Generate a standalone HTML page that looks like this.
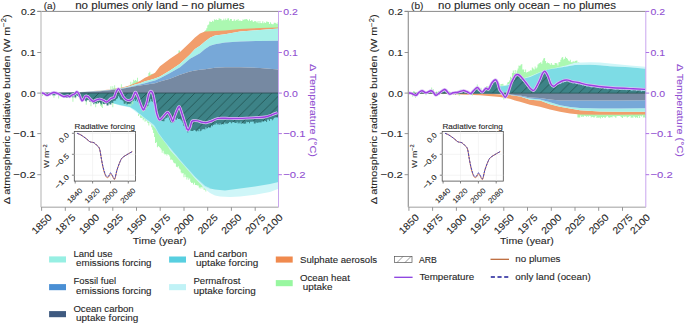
<!DOCTYPE html>
<html><head><meta charset="utf-8"><style>
html,body{margin:0;padding:0;background:#fff;width:685px;height:324px;overflow:hidden}
svg{display:block}
text{font-family:"Liberation Sans",sans-serif}
</style></head><body>
<svg width="685" height="324" viewBox="0 0 685 324">
<defs><pattern id="hatchA" patternUnits="userSpaceOnUse" width="9.6" height="9.6" patternTransform="translate(0,0)"><rect width="9.6" height="9.6" fill="#3d8387"/><path d="M-1,1 L1,-1 M0,9.6 L9.6,0 M8.6,10.6 L10.6,8.6" stroke="#20504f" stroke-width="0.8"/></pattern></defs>
<polygon points="203.5,32.1 204.4,32.1 204.4,31.1 205.4,31.1 205.4,30.0 206.3,30.0 206.3,28.2 207.3,28.2 207.3,25.3 208.2,25.3 208.2,24.5 209.2,24.5 209.2,21.4 210.1,21.4 210.1,21.7 211.1,21.7 211.0,22.1 212.0,22.1 212.0,20.8 212.9,20.8 212.9,21.4 213.9,21.4 213.9,19.2 214.8,19.2 214.8,20.0 215.8,20.0 215.8,19.3 216.7,19.3 216.7,20.0 217.7,20.0 217.7,19.9 218.6,19.9 218.6,18.3 219.6,18.3 219.6,18.8 220.5,18.8 220.5,18.9 221.5,18.9 221.5,20.6 222.4,20.6 222.4,20.2 223.4,20.2 223.4,18.7 224.3,18.7 224.3,20.3 225.3,20.3 225.3,18.6 226.2,18.6 226.2,19.9 227.2,19.9 227.2,18.6 228.1,18.6 228.1,18.3 229.1,18.3 229.1,20.6 230.0,20.6 230.0,18.9 231.0,18.9 231.0,18.9 231.9,18.9 231.9,20.9 232.9,20.9 232.9,20.7 233.8,20.7 233.8,19.2 234.8,19.2 234.8,20.9 235.7,20.9 235.7,19.8 236.7,19.8 236.7,20.2 237.6,20.2 237.6,19.0 238.6,19.0 238.6,20.9 239.5,20.9 239.5,20.3 240.5,20.3 240.5,21.1 241.4,21.1 241.4,21.0 242.4,21.0 242.4,19.5 243.3,19.5 243.3,19.7 244.3,19.7 244.3,19.3 245.2,19.3 245.2,19.3 246.2,19.3 246.2,19.1 247.1,19.1 247.1,19.8 248.1,19.8 248.1,20.7 249.0,20.7 249.0,19.2 250.0,19.2 250.0,21.0 250.9,21.0 250.9,20.3 251.9,20.3 251.9,20.4 252.8,20.4 252.8,21.9 253.8,21.9 253.8,21.2 254.7,21.2 254.7,21.0 255.7,21.0 255.7,21.6 256.6,21.6 256.6,22.4 257.6,22.4 257.6,20.9 258.5,20.9 258.5,23.3 259.5,23.3 259.5,21.0 260.4,21.0 260.4,22.9 261.4,22.9 261.4,23.3 262.3,23.3 262.3,21.2 263.3,21.2 263.3,23.3 264.2,23.3 264.2,22.3 265.2,22.3 265.2,23.0 266.1,23.0 266.1,21.5 267.1,21.5 267.1,21.7 268.0,21.7 268.0,22.1 269.0,22.1 269.0,24.1 269.9,24.1 269.9,22.2 270.9,22.2 270.9,23.7 271.8,23.7 271.8,24.2 272.8,24.2 272.8,24.2 273.7,24.2 273.7,22.7 274.7,22.7 274.7,22.8 275.6,22.8 275.6,23.3 276.6,23.3 276.6,24.0 277.5,24.0 277.5,22.3 278.5,22.3 278.5,28.5 277.5,28.5 277.5,28.5 276.6,28.5 276.6,28.6 275.6,28.6 275.6,28.6 274.7,28.6 274.7,28.6 273.7,28.6 273.7,28.6 272.8,28.6 272.8,28.7 271.8,28.7 271.8,28.7 270.9,28.7 270.9,28.7 269.9,28.7 269.9,28.7 269.0,28.7 269.0,28.8 268.0,28.8 268.0,28.8 267.1,28.8 267.1,28.8 266.1,28.8 266.1,28.8 265.2,28.8 265.2,28.9 264.2,28.9 264.2,28.9 263.3,28.9 263.3,28.9 262.3,28.9 262.3,29.0 261.4,29.0 261.4,29.0 260.4,29.0 260.4,29.0 259.5,29.0 259.5,29.1 258.5,29.1 258.5,29.1 257.6,29.1 257.6,29.1 256.6,29.1 256.6,29.2 255.7,29.2 255.7,29.2 254.7,29.2 254.7,29.3 253.8,29.3 253.8,29.3 252.8,29.3 252.8,29.4 251.9,29.4 251.9,29.4 250.9,29.4 250.9,29.5 250.0,29.5 250.0,29.5 249.0,29.5 249.0,29.6 248.1,29.6 248.1,29.6 247.1,29.6 247.1,29.7 246.2,29.7 246.2,29.7 245.2,29.7 245.2,29.8 244.3,29.8 244.3,29.8 243.3,29.8 243.3,29.9 242.4,29.9 242.4,29.9 241.4,29.9 241.4,30.0 240.5,30.0 240.5,30.0 239.5,30.0 239.5,30.1 238.6,30.1 238.6,30.2 237.6,30.2 237.6,30.3 236.7,30.3 236.7,30.4 235.7,30.4 235.7,30.5 234.8,30.5 234.8,30.6 233.8,30.6 233.8,30.7 232.9,30.7 232.9,30.8 231.9,30.8 231.9,30.9 231.0,30.9 231.0,30.9 230.0,30.9 230.0,31.0 229.1,31.0 229.1,31.1 228.1,31.1 228.1,31.2 227.2,31.2 227.2,31.3 226.2,31.3 226.2,31.4 225.3,31.4 225.3,31.5 224.3,31.5 224.3,31.6 223.4,31.6 223.4,31.6 222.4,31.6 222.4,31.7 221.5,31.7 221.5,31.7 220.5,31.7 220.5,31.7 219.6,31.7 219.6,31.8 218.6,31.8 218.6,31.8 217.7,31.8 217.7,31.9 216.7,31.9 216.7,31.9 215.8,31.9 215.8,32.0 214.8,32.0 214.8,32.0 213.9,32.0 213.9,32.1 212.9,32.1 212.9,32.1 212.0,32.1 212.0,32.1 211.0,32.1 211.1,32.2 210.1,32.2 210.1,32.2 209.2,32.2 209.2,32.3 208.2,32.3 208.2,32.4 207.3,32.4 207.3,32.5 206.3,32.5 206.3,32.5 205.4,32.5 205.4,32.6 204.4,32.6 204.4,33.0 203.5,33.0" fill="#abf8b1" />
<path d="M110.45,86.23h0.9v3.64h-0.9zM112.35,86.28h0.9v3.30h-0.9zM113.30,88.24h0.9v1.20h-0.9zM114.25,85.20h0.9v4.09h-0.9zM115.20,88.54h0.9v0.61h-0.9zM116.14,88.42h0.9v0.59h-0.9zM120.89,84.18h0.9v4.00h-0.9z" fill="#abf8b1"/>
<path d="M130.38,81.77h0.9v3.62h-0.9zM131.33,84.24h0.9v0.78h-0.9zM132.28,82.60h0.9v2.06h-0.9zM133.23,79.84h0.9v4.46h-0.9zM134.18,80.63h0.9v3.31h-0.9zM135.13,79.88h0.9v3.64h-0.9zM136.08,80.65h0.9v2.42h-0.9zM137.03,77.63h0.9v4.98h-0.9z" fill="#abf8b1"/>
<path d="M148.42,73.07h0.9v3.43h-0.9zM149.37,71.83h0.9v4.25h-0.9zM150.32,74.42h0.9v1.15h-0.9zM151.27,73.91h0.9v1.13h-0.9zM152.22,73.85h0.9v0.65h-0.9z" fill="#abf8b1"/>
<path d="M178.5,53.42h1.5v-3h-1.5z" fill="#abf8b1"/>
<polygon points="41.0,93.0 60.0,92.8 80.0,92.0 100.0,90.5 110.0,89.5 120.0,88.0 125.0,86.8 130.0,85.2 135.0,83.3 140.0,80.9 145.0,77.7 150.0,75.5 155.0,72.7 160.0,66.3 170.0,58.7 180.0,51.9 190.0,42.5 195.0,37.5 200.0,33.4 205.0,31.6 210.0,31.2 215.0,31.0 225.0,30.5 240.0,29.0 260.0,28.0 278.5,27.5 278.5,28.5 260.0,30.0 240.0,31.6 225.0,34.2 215.0,35.5 210.0,37.7 205.0,41.4 200.0,45.7 195.0,49.0 190.0,54.4 180.0,63.8 170.0,70.6 160.0,76.5 155.0,78.4 150.0,79.9 145.0,81.2 140.0,83.2 135.0,84.6 130.0,86.2 125.0,87.4 120.0,88.4 110.0,89.8 100.0,90.8 80.0,92.1 60.0,92.8 41.0,93.0" fill="#f19e6c" />
<polygon points="41.0,93.0 60.0,92.8 80.0,92.1 100.0,90.8 110.0,89.8 120.0,88.4 125.0,87.4 130.0,86.2 135.0,84.6 140.0,83.2 145.0,81.2 150.0,79.9 155.0,78.4 160.0,76.5 170.0,70.6 180.0,63.8 190.0,54.4 195.0,49.0 200.0,45.7 205.0,41.4 210.0,37.7 215.0,35.5 225.0,34.2 240.0,31.6 260.0,30.0 278.5,28.5 278.5,40.7 260.0,41.0 240.0,41.4 225.0,42.4 215.0,44.2 210.0,45.7 205.0,48.9 200.0,53.3 195.0,56.0 190.0,58.7 180.0,67.2 170.0,73.1 160.0,78.2 155.0,80.5 150.0,81.8 145.0,83.3 140.0,84.6 135.0,85.7 130.0,86.9 125.0,88.0 120.0,88.7 110.0,90.0 100.0,91.0 80.0,92.2 60.0,92.8 41.0,93.0" fill="#a8f1e8" />
<polygon points="41.0,93.0 60.0,92.8 80.0,92.2 100.0,91.0 110.0,90.0 120.0,88.7 125.0,88.0 130.0,86.9 135.0,85.7 140.0,84.6 145.0,83.3 150.0,81.8 155.0,80.5 160.0,78.2 170.0,73.1 180.0,67.2 190.0,58.7 195.0,56.0 200.0,53.3 205.0,48.9 210.0,45.7 215.0,44.2 225.0,42.4 240.0,41.4 260.0,41.0 278.5,40.7 278.5,69.5 260.0,68.0 240.0,67.3 225.0,67.3 215.0,67.7 210.0,68.4 205.0,69.3 200.0,69.8 195.0,70.6 190.0,71.4 180.0,74.8 170.0,78.7 160.0,81.6 155.0,83.3 150.0,84.0 145.0,84.8 140.0,85.5 135.0,86.3 130.0,87.3 125.0,88.3 120.0,89.0 110.0,90.2 100.0,91.2 80.0,92.3 60.0,92.8 41.0,93.0" fill="#77a8d8" />
<polygon points="41.0,93.0 60.0,92.8 80.0,92.3 100.0,91.2 110.0,90.2 120.0,89.0 125.0,88.3 130.0,87.3 135.0,86.3 140.0,85.5 145.0,84.8 150.0,84.0 155.0,83.3 160.0,81.6 170.0,78.7 180.0,74.8 190.0,71.4 195.0,70.6 200.0,69.8 205.0,69.3 210.0,68.4 215.0,67.7 225.0,67.3 240.0,67.3 260.0,68.0 278.5,69.5 278.5,93.0 260.0,93.0 240.0,93.0 225.0,93.0 215.0,93.0 210.0,93.0 205.0,93.0 200.0,93.0 195.0,93.0 190.0,93.0 180.0,93.0 170.0,93.0 160.0,93.0 155.0,93.0 150.0,93.0 145.0,93.0 140.0,93.0 135.0,93.0 130.0,93.0 125.0,93.0 120.0,93.0 110.0,93.0 100.0,93.0 80.0,93.0 60.0,93.0 41.0,93.0" fill="#7689a2" />
<polygon points="136.1,110.3 137.0,110.3 137.0,111.1 138.0,111.1 138.0,111.9 138.9,111.9 138.9,112.7 139.9,112.7 139.9,113.5 140.8,113.5 140.8,114.3 141.8,114.3 141.8,115.1 142.7,115.1 142.7,115.9 143.7,115.9 143.6,116.7 144.6,116.7 144.6,117.6 145.5,117.6 145.5,118.2 146.5,118.2 146.5,118.9 147.4,118.9 147.4,119.6 148.4,119.6 148.4,120.3 149.3,120.3 149.3,121.0 150.3,121.0 150.3,121.7 151.2,121.7 151.2,122.5 152.2,122.5 152.2,123.3 153.1,123.3 153.1,124.1 154.1,124.1 154.1,125.3 155.0,125.3 155.0,127.0 156.0,127.0 156.0,128.8 156.9,128.8 156.9,130.6 157.9,130.6 157.9,132.3 158.8,132.3 158.8,133.6 159.8,133.6 159.8,134.9 160.7,134.9 160.7,136.2 161.7,136.2 161.7,137.4 162.6,137.4 162.6,138.7 163.6,138.7 163.6,140.0 164.5,140.0 164.5,141.2 165.5,141.2 165.5,142.3 166.4,142.3 166.4,143.5 167.4,143.5 167.4,144.6 168.3,144.6 168.3,145.8 169.3,145.8 169.3,146.9 170.2,146.9 170.2,148.1 171.2,148.1 171.2,149.2 172.1,149.2 172.1,150.3 173.1,150.3 173.1,151.5 174.0,151.5 174.0,152.6 175.0,152.6 175.0,153.7 175.9,153.7 175.9,154.8 176.9,154.8 176.9,156.0 177.8,156.0 177.8,157.1 178.8,157.1 178.8,158.3 179.7,158.3 179.7,159.5 180.7,159.5 180.7,160.6 181.6,160.6 181.6,161.6 182.6,161.6 182.6,162.7 183.5,162.7 183.5,163.8 184.5,163.8 184.5,164.8 185.4,164.8 185.4,165.9 186.4,165.9 186.4,167.0 187.3,167.0 187.3,168.0 188.3,168.0 188.3,169.1 189.2,169.1 189.2,170.2 190.2,170.2 190.2,171.2 191.1,171.2 191.1,172.2 192.1,172.2 192.1,173.3 193.0,173.3 193.0,174.3 194.0,174.3 194.0,175.4 194.9,175.4 194.9,176.4 195.9,176.4 195.9,177.3 196.8,177.3 196.8,178.1 197.8,178.1 197.8,179.0 198.7,179.0 198.7,179.9 199.7,179.9 199.7,180.8 200.6,180.8 200.6,181.7 201.6,181.7 201.6,182.6 202.5,182.6 202.5,183.4 203.5,183.4 203.5,184.3 204.4,184.3 204.4,185.2 205.4,185.2 205.4,185.7 206.3,185.7 206.3,191.6 205.4,191.6 205.4,189.8 204.4,189.8 204.4,189.7 203.5,189.7 203.5,186.6 202.5,186.6 202.5,188.6 201.6,188.6 201.6,187.1 200.6,187.1 200.6,188.5 199.7,188.5 199.7,187.6 198.7,187.6 198.7,185.4 197.8,185.4 197.8,185.5 196.8,185.5 196.8,185.1 195.9,185.1 195.9,185.0 194.9,185.0 194.9,182.7 194.0,182.7 194.0,184.6 193.0,184.6 193.0,182.7 192.1,182.7 192.1,182.9 191.1,182.9 191.1,181.8 190.2,181.8 190.2,178.4 189.2,178.4 189.2,179.7 188.3,179.7 188.3,177.5 187.3,177.5 187.3,179.5 186.4,179.5 186.4,176.9 185.4,176.9 185.4,174.5 184.5,174.5 184.5,177.2 183.5,177.2 183.5,173.1 182.6,173.1 182.6,173.5 181.6,173.5 181.6,172.6 180.7,172.6 180.7,169.4 179.7,169.4 179.7,168.6 178.8,168.6 178.8,166.2 177.8,166.2 177.8,167.2 176.9,167.2 176.9,166.7 175.9,166.7 175.9,163.6 175.0,163.6 175.0,163.2 174.0,163.2 174.0,162.6 173.1,162.6 173.1,160.2 172.1,160.2 172.1,159.6 171.2,159.6 171.2,159.7 170.2,159.7 170.2,156.6 169.3,156.6 169.3,154.9 168.3,154.9 168.3,154.0 167.4,154.0 167.4,155.4 166.4,155.4 166.4,153.9 165.5,153.9 165.5,154.4 164.5,154.4 164.5,153.5 163.6,153.5 163.6,150.8 162.6,150.8 162.6,152.7 161.7,152.7 161.7,149.6 160.7,149.6 160.7,147.9 159.8,147.9 159.8,146.9 158.8,146.9 158.8,146.1 157.9,146.1 157.9,147.2 156.9,147.2 156.9,142.2 156.0,142.2 156.0,143.1 155.0,143.1 155.0,136.9 154.1,136.9 154.1,133.0 153.1,133.0 153.1,129.8 152.2,129.8 152.2,127.2 151.2,127.2 151.2,124.2 150.3,124.2 150.3,122.8 149.3,122.8 149.3,125.4 148.4,125.4 148.4,123.1 147.4,123.1 147.4,121.2 146.5,121.2 146.5,120.6 145.5,120.6 145.5,121.7 144.6,121.7 144.6,119.1 143.6,119.1 143.7,120.3 142.7,120.3 142.7,117.4 141.8,117.4 141.8,117.9 140.8,117.9 140.8,117.8 139.9,117.8 139.9,114.6 138.9,114.6 138.9,115.9 138.0,115.9 138.0,112.4 137.0,112.4 137.0,111.9 136.1,111.9" fill="#abf8b1" />
<polygon points="41.0,93.0 60.0,93.0 80.0,93.0 100.0,93.0 120.0,93.0 130.0,93.0 140.0,93.0 150.0,93.0 160.0,93.0 170.0,93.0 180.0,93.0 190.0,93.0 195.0,93.0 200.0,93.0 205.0,93.0 210.0,93.0 215.0,93.0 220.0,93.0 230.0,93.0 240.0,93.0 255.0,93.0 270.0,93.0 278.5,93.0 278.5,188.8 270.0,192.0 255.0,194.8 240.0,196.5 230.0,197.0 220.0,196.6 215.0,195.5 210.0,193.0 205.0,189.0 200.0,183.5 195.0,178.5 190.0,172.5 180.0,161.0 170.0,150.0 160.0,133.0 150.0,123.0 140.0,115.0 130.0,107.5 120.0,105.5 100.0,99.5 80.0,96.5 60.0,94.5 41.0,93.5" fill="#cff6f8" />
<polygon points="41.0,93.0 60.0,93.0 80.0,93.0 100.0,93.0 110.0,93.0 120.0,93.0 130.0,93.0 135.0,93.0 140.0,93.0 145.0,93.0 150.0,93.0 154.2,93.0 158.3,93.0 163.9,93.0 170.8,93.0 177.8,93.0 180.0,93.0 185.0,93.0 190.0,93.0 195.0,93.0 200.0,93.0 205.0,93.0 210.0,93.0 215.0,93.0 225.0,93.0 240.0,93.0 255.0,93.0 270.0,93.0 278.5,93.0 278.5,182.0 270.0,183.9 255.0,186.5 240.0,188.5 225.0,190.4 215.0,189.6 210.0,188.5 205.0,186.3 200.0,181.7 195.0,177.0 190.0,171.5 185.0,165.9 180.0,160.3 177.8,157.5 170.8,149.2 163.9,140.8 158.3,133.2 154.2,125.6 150.0,122.1 145.0,118.5 140.0,114.2 135.0,110.0 130.0,107.0 120.0,105.0 110.0,102.5 100.0,99.0 80.0,96.0 60.0,94.0 41.0,93.5" fill="#7ddce5" />
<polyline points="140.0,114.2 145.0,118.5 150.0,122.1 154.2,125.6 158.3,133.2 163.9,140.8 170.8,149.2 177.8,157.5 180.0,160.3 185.0,165.9 190.0,171.5 195.0,177.0 200.0,181.7 205.0,186.3 210.0,188.5" fill="none" stroke="#b8eef2" stroke-width="0.8"/>
<path d="M42.10,92.76h0.9v3.27h-0.9zM47.80,93.73h0.9v1.41h-0.9zM53.49,94.00h0.9v3.81h-0.9zM58.24,94.00h0.9v4.55h-0.9zM71.53,96.00h0.9v0.82h-0.9zM72.48,95.85h0.9v5.79h-0.9zM75.32,95.37h0.9v3.04h-0.9zM85.77,99.58h0.9v5.16h-0.9zM90.51,101.29h0.9v4.99h-0.9zM95.26,102.43h0.9v4.80h-0.9zM97.16,102.24h0.9v1.76h-0.9zM100.01,102.11h0.9v3.69h-0.9zM100.96,102.35h0.9v4.31h-0.9zM101.91,102.59h0.9v5.29h-0.9zM105.70,103.48h0.9v0.46h-0.9zM107.60,103.24h0.9v1.18h-0.9zM112.35,101.60h0.9v5.75h-0.9zM124.69,102.53h0.9v1.81h-0.9zM128.49,103.29h0.9v2.49h-0.9zM130.38,102.56h0.9v3.69h-0.9zM132.28,100.43h0.9v3.76h-0.9zM140.83,106.55h0.9v2.74h-0.9zM142.73,109.82h0.9v2.18h-0.9zM143.67,108.88h0.9v2.21h-0.9zM145.57,106.98h0.9v2.26h-0.9zM147.47,104.16h0.9v3.42h-0.9zM149.37,100.36h0.9v1.34h-0.9z" fill="#abf8b1"/>
<polygon points="41.1,93.0 42.1,93.0 42.1,93.0 43.0,93.0 43.0,93.0 44.0,93.0 44.0,93.0 44.9,93.0 44.9,93.0 45.9,93.0 45.9,93.0 46.8,93.0 46.8,93.0 47.8,93.0 47.8,93.0 48.7,93.0 48.7,93.0 49.7,93.0 49.7,93.0 50.6,93.0 50.6,93.0 51.6,93.0 51.6,93.0 52.5,93.0 52.5,93.0 53.5,93.0 53.5,93.0 54.4,93.0 54.4,93.0 55.4,93.0 55.4,93.0 56.3,93.0 56.3,93.0 57.3,93.0 57.3,93.0 58.2,93.0 58.2,93.0 59.2,93.0 59.2,93.0 60.1,93.0 60.1,93.0 61.1,93.0 61.1,93.0 62.0,93.0 62.0,93.0 63.0,93.0 63.0,93.0 63.9,93.0 63.9,93.0 64.9,93.0 64.9,93.0 65.8,93.0 65.8,93.0 66.8,93.0 66.8,93.0 67.7,93.0 67.7,93.0 68.7,93.0 68.7,93.0 69.6,93.0 69.6,93.0 70.6,93.0 70.6,93.0 71.5,93.0 71.5,93.0 72.5,93.0 72.5,93.0 73.4,93.0 73.4,93.0 74.4,93.0 74.4,93.0 75.3,93.0 75.3,93.0 76.2,93.0 76.2,93.0 77.2,93.0 77.2,93.0 78.1,93.0 78.1,93.0 79.1,93.0 79.1,93.0 80.0,93.0 80.0,93.0 81.0,93.0 81.0,93.0 81.9,93.0 81.9,93.0 82.9,93.0 82.9,93.0 83.8,93.0 83.8,93.0 84.8,93.0 84.8,93.0 85.7,93.0 85.7,93.0 86.7,93.0 86.7,93.0 87.6,93.0 87.6,93.0 88.6,93.0 88.6,93.0 89.5,93.0 89.5,93.0 90.5,93.0 90.5,93.0 91.4,93.0 91.4,93.0 92.4,93.0 92.4,93.0 93.3,93.0 93.3,93.0 94.3,93.0 94.3,93.0 95.2,93.0 95.2,93.0 96.2,93.0 96.2,93.0 97.1,93.0 97.1,93.0 98.1,93.0 98.1,93.0 99.0,93.0 99.0,93.0 100.0,93.0 100.0,93.0 100.9,93.0 100.9,93.0 101.9,93.0 101.9,93.0 102.8,93.0 102.8,93.0 103.8,93.0 103.8,93.0 104.7,93.0 104.7,93.0 105.7,93.0 105.7,93.0 106.6,93.0 106.6,93.0 107.6,93.0 107.6,93.0 108.5,93.0 108.5,93.0 109.5,93.0 109.5,93.0 110.4,93.0 110.4,93.0 111.4,93.0 111.4,93.0 112.3,93.0 112.3,93.0 113.3,93.0 113.3,93.0 114.2,93.0 114.2,93.0 115.2,93.0 115.2,93.0 116.1,93.0 116.1,93.0 117.1,93.0 117.1,93.0 118.0,93.0 118.0,93.0 119.0,93.0 119.0,93.0 119.9,93.0 119.9,93.0 120.9,93.0 120.9,93.0 121.8,93.0 121.8,93.0 122.8,93.0 122.8,93.0 123.7,93.0 123.7,93.0 124.7,93.0 124.7,93.0 125.6,93.0 125.6,93.0 126.6,93.0 126.6,93.0 127.5,93.0 127.5,93.0 128.5,93.0 128.5,93.0 129.4,93.0 129.4,93.0 130.4,93.0 130.4,93.0 131.3,93.0 131.3,93.0 132.3,93.0 132.3,93.0 133.2,93.0 133.2,93.0 134.2,93.0 134.2,93.0 135.1,93.0 135.1,93.0 136.1,93.0 136.1,93.0 137.0,93.0 137.0,93.0 138.0,93.0 138.0,93.0 138.9,93.0 138.9,93.0 139.9,93.0 139.9,93.0 140.8,93.0 140.8,93.0 141.8,93.0 141.8,93.0 142.7,93.0 142.7,93.0 143.7,93.0 143.6,93.0 144.6,93.0 144.6,93.0 145.5,93.0 145.5,93.0 146.5,93.0 146.5,93.0 147.4,93.0 147.4,93.0 148.4,93.0 148.4,93.0 149.3,93.0 149.3,93.0 150.3,93.0 150.3,93.0 151.2,93.0 151.2,93.0 152.2,93.0 152.2,93.0 153.1,93.0 153.1,93.0 154.1,93.0 154.1,93.0 155.0,93.0 155.0,93.0 156.0,93.0 156.0,93.0 156.9,93.0 156.9,93.0 157.9,93.0 157.9,93.0 158.8,93.0 158.8,93.0 159.8,93.0 159.8,93.0 160.7,93.0 160.7,93.0 161.7,93.0 161.7,93.0 162.6,93.0 162.6,93.0 163.6,93.0 163.6,93.0 164.5,93.0 164.5,93.0 165.5,93.0 165.5,93.0 166.4,93.0 166.4,93.0 167.4,93.0 167.4,93.0 168.3,93.0 168.3,93.0 169.3,93.0 169.3,93.0 170.2,93.0 170.2,93.0 171.2,93.0 171.2,93.0 172.1,93.0 172.1,93.0 173.1,93.0 173.1,93.0 174.0,93.0 174.0,93.0 175.0,93.0 175.0,93.0 175.9,93.0 175.9,93.0 176.9,93.0 176.9,93.0 177.8,93.0 177.8,93.0 178.8,93.0 178.8,93.0 179.7,93.0 179.7,93.0 180.7,93.0 180.7,93.0 181.6,93.0 181.6,93.0 182.6,93.0 182.6,93.0 183.5,93.0 183.5,93.0 184.5,93.0 184.5,93.0 185.4,93.0 185.4,93.0 186.4,93.0 186.4,93.0 187.3,93.0 187.3,93.0 188.3,93.0 188.3,93.0 189.2,93.0 189.2,93.0 190.2,93.0 190.2,93.0 191.1,93.0 191.1,93.0 192.1,93.0 192.1,93.0 193.0,93.0 193.0,93.0 194.0,93.0 194.0,93.0 194.9,93.0 194.9,93.0 195.9,93.0 195.9,93.0 196.8,93.0 196.8,93.0 197.8,93.0 197.8,93.0 198.7,93.0 198.7,93.0 199.7,93.0 199.7,93.0 200.6,93.0 200.6,93.0 201.6,93.0 201.6,93.0 202.5,93.0 202.5,93.0 203.5,93.0 203.5,93.0 204.4,93.0 204.4,93.0 205.4,93.0 205.4,93.0 206.3,93.0 206.3,93.0 207.3,93.0 207.3,93.0 208.2,93.0 208.2,93.0 209.2,93.0 209.2,93.0 210.1,93.0 210.1,93.0 211.1,93.0 211.0,93.0 212.0,93.0 212.0,93.0 212.9,93.0 212.9,93.0 213.9,93.0 213.9,93.0 214.8,93.0 214.8,93.0 215.8,93.0 215.8,93.0 216.7,93.0 216.7,93.0 217.7,93.0 217.7,93.0 218.6,93.0 218.6,93.0 219.6,93.0 219.6,93.0 220.5,93.0 220.5,93.0 221.5,93.0 221.5,93.0 222.4,93.0 222.4,93.0 223.4,93.0 223.4,93.0 224.3,93.0 224.3,93.0 225.3,93.0 225.3,93.0 226.2,93.0 226.2,93.0 227.2,93.0 227.2,93.0 228.1,93.0 228.1,93.0 229.1,93.0 229.1,93.0 230.0,93.0 230.0,93.0 231.0,93.0 231.0,93.0 231.9,93.0 231.9,93.0 232.9,93.0 232.9,93.0 233.8,93.0 233.8,93.0 234.8,93.0 234.8,93.0 235.7,93.0 235.7,93.0 236.7,93.0 236.7,93.0 237.6,93.0 237.6,93.0 238.6,93.0 238.6,93.0 239.5,93.0 239.5,93.0 240.5,93.0 240.5,93.0 241.4,93.0 241.4,93.0 242.4,93.0 242.4,93.0 243.3,93.0 243.3,93.0 244.3,93.0 244.3,93.0 245.2,93.0 245.2,93.0 246.2,93.0 246.2,93.0 247.1,93.0 247.1,93.0 248.1,93.0 248.1,93.0 249.0,93.0 249.0,93.0 250.0,93.0 250.0,93.0 250.9,93.0 250.9,93.0 251.9,93.0 251.9,93.0 252.8,93.0 252.8,93.0 253.8,93.0 253.8,93.0 254.7,93.0 254.7,93.0 255.7,93.0 255.7,93.0 256.6,93.0 256.6,93.0 257.6,93.0 257.6,93.0 258.5,93.0 258.5,93.0 259.5,93.0 259.5,93.0 260.4,93.0 260.4,93.0 261.4,93.0 261.4,93.0 262.3,93.0 262.3,93.0 263.3,93.0 263.3,93.0 264.2,93.0 264.2,93.0 265.2,93.0 265.2,93.0 266.1,93.0 266.1,93.0 267.1,93.0 267.1,93.0 268.0,93.0 268.0,93.0 269.0,93.0 269.0,93.0 269.9,93.0 269.9,93.0 270.9,93.0 270.9,93.0 271.8,93.0 271.8,93.0 272.8,93.0 272.8,93.0 273.7,93.0 273.7,93.0 274.7,93.0 274.7,93.0 275.6,93.0 275.6,93.0 276.6,93.0 276.6,93.0 277.5,93.0 277.5,93.0 278.5,93.0 278.5,117.9 277.5,117.9 277.5,117.1 276.6,117.1 276.6,117.4 275.6,117.4 275.6,117.2 274.7,117.2 274.7,118.0 273.7,118.0 273.7,119.3 272.8,119.3 272.8,120.2 271.8,120.2 271.8,119.1 270.9,119.1 270.9,118.9 269.9,118.9 269.9,120.9 269.0,120.9 269.0,119.5 268.0,119.5 268.0,119.6 267.1,119.6 267.1,122.0 266.1,122.0 266.1,121.1 265.2,121.1 265.2,120.7 264.2,120.7 264.2,121.7 263.3,121.7 263.3,121.3 262.3,121.3 262.3,121.5 261.4,121.5 261.4,122.6 260.4,122.6 260.4,122.2 259.5,122.2 259.5,122.6 258.5,122.6 258.5,122.4 257.6,122.4 257.6,123.1 256.6,123.1 256.6,122.2 255.7,122.2 255.7,123.6 254.7,123.6 254.7,123.6 253.8,123.6 253.8,121.6 252.8,121.6 252.8,121.6 251.9,121.6 251.9,121.8 250.9,121.8 250.9,121.8 250.0,121.8 250.0,123.2 249.0,123.2 249.0,121.9 248.1,121.9 248.1,122.2 247.1,122.2 247.1,121.7 246.2,121.7 246.2,123.4 245.2,123.4 245.2,123.8 244.3,123.8 244.3,123.8 243.3,123.8 243.3,122.9 242.4,122.9 242.4,123.8 241.4,123.8 241.4,121.6 240.5,121.6 240.5,123.5 239.5,123.5 239.5,122.4 238.6,122.4 238.6,123.5 237.6,123.5 237.6,121.7 236.7,121.7 236.7,123.0 235.7,123.0 235.7,122.9 234.8,122.9 234.8,122.6 233.8,122.6 233.8,122.0 232.9,122.0 232.9,122.3 231.9,122.3 231.9,123.3 231.0,123.3 231.0,122.3 230.0,122.3 230.0,122.1 229.1,122.1 229.1,123.0 228.1,123.0 228.1,123.7 227.2,123.7 227.2,123.6 226.2,123.6 226.2,123.7 225.3,123.7 225.3,122.4 224.3,122.4 224.3,124.5 223.4,124.5 223.4,124.0 222.4,124.0 222.4,124.3 221.5,124.3 221.5,124.6 220.5,124.6 220.5,123.2 219.6,123.2 219.6,124.9 218.6,124.9 218.6,123.7 217.7,123.7 217.7,124.4 216.7,124.4 216.7,123.1 215.8,123.1 215.8,124.6 214.8,124.6 214.8,124.6 213.9,124.6 213.9,125.1 212.9,125.1 212.9,126.2 212.0,126.2 212.0,125.4 211.0,125.4 211.1,127.4 210.1,127.4 210.1,127.8 209.2,127.8 209.2,127.1 208.2,127.1 208.2,127.9 207.3,127.9 207.3,128.4 206.3,128.4 206.3,127.2 205.4,127.2 205.4,129.5 204.4,129.5 204.4,128.9 203.5,128.9 203.5,129.2 202.5,129.2 202.5,129.6 201.6,129.6 201.6,130.7 200.6,130.7 200.6,131.2 199.7,131.2 199.7,129.1 198.7,129.1 198.7,131.3 197.8,131.3 197.8,130.5 196.8,130.5 196.8,131.5 195.9,131.5 195.9,130.5 194.9,130.5 194.9,129.9 194.0,129.9 194.0,130.5 193.0,130.5 193.0,131.1 192.1,131.1 192.1,131.0 191.1,131.0 191.1,130.6 190.2,130.6 190.2,130.4 189.2,130.4 189.2,131.1 188.3,131.1 188.3,132.4 187.3,132.4 187.3,129.3 186.4,129.3 186.4,129.2 185.4,129.2 185.4,126.6 184.5,126.6 184.5,126.1 183.5,126.1 183.5,123.0 182.6,123.0 182.6,121.2 181.6,121.2 181.6,120.3 180.7,120.3 180.7,119.3 179.7,119.3 179.7,118.8 178.8,118.8 178.8,118.9 177.8,118.9 177.8,117.9 176.9,117.9 176.9,119.8 175.9,119.8 175.9,119.4 175.0,119.4 175.0,121.5 174.0,121.5 174.0,122.5 173.1,122.5 173.1,123.1 172.1,123.1 172.1,122.4 171.2,122.4 171.2,122.2 170.2,122.2 170.2,120.2 169.3,120.2 169.3,117.4 168.3,117.4 168.3,116.2 167.4,116.2 167.4,118.0 166.4,118.0 166.4,117.8 165.5,117.8 165.5,119.0 164.5,119.0 164.5,121.3 163.6,121.3 163.6,121.2 162.6,121.2 162.6,120.9 161.7,120.9 161.7,120.7 160.7,120.7 160.7,120.6 159.8,120.6 159.8,120.8 158.8,120.8 158.8,119.9 157.9,119.9 157.9,117.2 156.9,117.2 156.9,113.6 156.0,113.6 156.0,108.1 155.0,108.1 155.0,107.3 154.1,107.3 154.1,103.2 153.1,103.2 153.1,101.8 152.2,101.8 152.2,101.3 151.2,101.3 151.2,98.7 150.3,98.7 150.3,101.8 149.3,101.8 149.3,102.9 148.4,102.9 148.4,106.0 147.4,106.0 147.4,106.7 146.5,106.7 146.5,107.7 145.5,107.7 145.5,110.0 144.6,110.0 144.6,109.2 143.6,109.2 143.7,110.6 142.7,110.6 142.7,110.0 141.8,110.0 141.8,106.9 140.8,106.9 140.8,106.2 139.9,106.2 139.9,103.7 138.9,103.7 138.9,102.6 138.0,102.6 138.0,101.5 137.0,101.5 137.0,99.5 136.1,99.5 136.1,101.1 135.1,101.1 135.1,99.2 134.2,99.2 134.2,100.7 133.2,100.7 133.2,100.4 132.3,100.4 132.3,102.1 131.3,102.1 131.3,103.4 130.4,103.4 130.4,103.8 129.4,103.8 129.4,104.1 128.5,104.1 128.5,103.7 127.5,103.7 127.5,104.6 126.6,104.6 126.6,102.6 125.6,102.6 125.6,103.7 124.7,103.7 124.7,103.8 123.7,103.8 123.7,101.3 122.8,101.3 122.8,100.3 121.8,100.3 121.8,99.6 120.9,99.6 120.9,99.5 119.9,99.5 119.9,97.6 119.0,97.6 119.0,96.3 118.0,96.3 118.0,98.2 117.1,98.2 117.1,99.0 116.1,99.0 116.1,100.4 115.2,100.4 115.2,100.8 114.2,100.8 114.2,101.0 113.3,101.0 113.3,102.9 112.3,102.9 112.3,102.4 111.4,102.4 111.4,104.6 110.4,104.6 110.4,104.5 109.5,104.5 109.5,103.2 108.5,103.2 108.5,105.4 107.6,105.4 107.6,105.6 106.6,105.6 106.6,103.9 105.7,103.9 105.7,103.5 104.7,103.5 104.7,104.3 103.8,104.3 103.8,104.0 102.8,104.0 102.8,102.5 101.9,102.5 101.9,104.5 100.9,104.5 100.9,103.4 100.0,103.4 100.0,102.3 99.0,102.3 99.0,103.3 98.1,103.3 98.1,102.3 97.1,102.3 97.1,103.7 96.2,103.7 96.2,103.2 95.2,103.2 95.2,103.2 94.3,103.2 94.3,104.2 93.3,104.2 93.3,102.9 92.4,102.9 92.4,101.6 91.4,101.6 91.4,101.1 90.5,101.1 90.5,102.1 89.5,102.1 89.5,100.6 88.6,100.6 88.6,100.1 87.6,100.1 87.6,100.2 86.7,100.2 86.7,101.5 85.7,101.5 85.7,100.8 84.8,100.8 84.8,99.8 83.8,99.8 83.8,101.1 82.9,101.1 82.9,100.0 81.9,100.0 81.9,101.3 81.0,101.3 81.0,99.0 80.0,99.0 80.0,96.8 79.1,96.8 79.1,96.8 78.1,96.8 78.1,95.8 77.2,95.8 77.2,95.1 76.2,95.1 76.2,97.3 75.3,97.3 75.3,97.5 74.4,97.5 74.4,96.0 73.4,96.0 73.4,97.6 72.5,97.6 72.5,96.5 71.5,96.5 71.5,96.4 70.6,96.4 70.6,96.6 69.6,96.6 69.6,96.2 68.7,96.2 68.7,97.1 67.7,97.1 67.7,97.9 66.8,97.9 66.8,97.9 65.8,97.9 65.8,96.7 64.9,96.7 64.9,95.9 63.9,95.9 63.9,97.0 63.0,97.0 63.0,95.8 62.0,95.8 62.0,96.3 61.1,96.3 61.1,95.5 60.1,95.5 60.1,96.0 59.2,96.0 59.2,95.0 58.2,95.0 58.2,94.1 57.3,94.1 57.3,94.4 56.3,94.4 56.3,94.2 55.4,94.2 55.4,95.5 54.4,95.5 54.4,94.9 53.5,94.9 53.5,95.5 52.5,95.5 52.5,94.7 51.6,94.7 51.6,93.9 50.6,93.9 50.6,95.3 49.7,95.3 49.7,95.0 48.7,95.0 48.7,93.7 47.8,93.7 47.8,95.5 46.8,95.5 46.8,94.4 45.9,94.4 45.9,93.0 44.9,93.0 44.9,95.0 44.0,95.0 44.0,93.0 43.0,93.0 43.0,93.5 42.1,93.5 42.1,93.5 41.1,93.5" fill="#3d8387" style="fill:url(#hatchA)"/>
<line x1="41.0" y1="93.0" x2="278.5" y2="93.0" stroke="#2a4c50" stroke-width="0.8"/>
<path d="M41.40,93.00 C41.78,93.07 42.78,93.02 43.70,93.40 C44.62,93.78 45.82,95.22 46.90,95.30 C47.98,95.38 49.03,94.37 50.20,93.90 C51.37,93.43 52.52,92.50 53.90,92.50 C55.28,92.50 56.88,93.23 58.50,93.90 C60.12,94.57 62.05,96.20 63.60,96.50 C65.15,96.80 66.80,95.67 67.80,95.70 C68.80,95.73 68.83,96.85 69.60,96.70 C70.37,96.55 71.55,95.27 72.40,94.80 C73.25,94.33 73.95,94.43 74.70,93.90 C75.45,93.37 76.20,91.60 76.90,91.60 C77.60,91.60 78.03,92.37 78.90,93.90 C79.77,95.43 81.02,100.42 82.10,100.80 C83.18,101.18 84.40,96.88 85.40,96.20 C86.40,95.52 87.25,96.17 88.10,96.70 C88.95,97.23 89.65,98.63 90.50,99.40 C91.35,100.17 92.20,101.22 93.20,101.30 C94.20,101.38 95.38,100.27 96.50,99.90 C97.62,99.53 98.72,99.02 99.90,99.10 C101.08,99.18 102.47,99.92 103.60,100.40 C104.73,100.88 105.47,102.32 106.70,102.00 C107.93,101.68 109.77,99.28 111.00,98.50 C112.23,97.72 113.27,98.33 114.10,97.30 C114.93,96.27 115.27,93.75 116.00,92.30 C116.73,90.85 117.68,88.60 118.50,88.60 C119.32,88.60 119.98,90.75 120.90,92.30 C121.82,93.85 122.87,96.55 124.00,97.90 C125.13,99.25 126.37,100.20 127.70,100.40 C129.03,100.60 130.77,100.45 132.00,99.10 C133.23,97.75 134.17,92.82 135.10,92.30 C136.03,91.78 136.77,94.25 137.60,96.00 C138.43,97.75 139.18,100.53 140.10,102.80 C141.02,105.07 142.28,108.87 143.10,109.60 C143.92,110.33 144.37,108.42 145.00,107.20 C145.63,105.98 146.28,104.45 146.90,102.30 C147.52,100.15 148.03,96.15 148.70,94.30 C149.37,92.45 150.18,91.20 150.90,91.20 C151.62,91.20 152.33,92.25 153.00,94.30 C153.67,96.35 154.28,100.32 154.90,103.50 C155.52,106.68 155.98,110.72 156.70,113.40 C157.42,116.08 158.27,118.88 159.20,119.60 C160.13,120.32 161.27,118.63 162.30,117.70 C163.33,116.77 164.48,114.92 165.40,114.00 C166.32,113.08 166.98,111.88 167.80,112.20 C168.62,112.52 169.47,114.37 170.30,115.90 C171.13,117.43 172.10,121.28 172.80,121.40 C173.50,121.52 173.82,118.43 174.50,116.60 C175.18,114.77 176.08,112.05 176.90,110.40 C177.72,108.75 178.57,106.18 179.40,106.70 C180.23,107.22 181.08,111.13 181.90,113.50 C182.72,115.87 183.38,118.22 184.30,120.90 C185.22,123.58 186.47,128.47 187.40,129.60 C188.33,130.73 189.17,129.05 189.90,127.70 C190.63,126.35 191.08,122.67 191.80,121.50 C192.52,120.33 193.18,120.80 194.20,120.70 C195.22,120.60 196.60,120.65 197.90,120.90 C199.20,121.15 200.65,121.88 202.00,122.20 C203.35,122.52 204.50,122.95 206.00,122.80 C207.50,122.65 208.95,122.03 211.00,121.30 C213.05,120.57 215.23,118.88 218.30,118.40 C221.37,117.92 225.35,118.40 229.40,118.40 C233.45,118.40 238.22,118.53 242.60,118.40 C246.98,118.27 251.98,117.83 255.70,117.60 C259.42,117.37 262.27,117.43 264.90,117.00 C267.53,116.57 269.42,115.72 271.50,115.00 C273.58,114.28 276.42,113.08 277.40,112.70" fill="none" stroke="#dcc4f6" stroke-width="2.9" stroke-linejoin="round"/>
<path d="M41.40,93.00 C41.78,93.07 42.78,93.02 43.70,93.40 C44.62,93.78 45.82,95.22 46.90,95.30 C47.98,95.38 49.03,94.37 50.20,93.90 C51.37,93.43 52.52,92.50 53.90,92.50 C55.28,92.50 56.88,93.23 58.50,93.90 C60.12,94.57 62.05,96.20 63.60,96.50 C65.15,96.80 66.80,95.67 67.80,95.70 C68.80,95.73 68.83,96.85 69.60,96.70 C70.37,96.55 71.55,95.27 72.40,94.80 C73.25,94.33 73.95,94.43 74.70,93.90 C75.45,93.37 76.20,91.60 76.90,91.60 C77.60,91.60 78.03,92.37 78.90,93.90 C79.77,95.43 81.02,100.42 82.10,100.80 C83.18,101.18 84.40,96.88 85.40,96.20 C86.40,95.52 87.25,96.17 88.10,96.70 C88.95,97.23 89.65,98.63 90.50,99.40 C91.35,100.17 92.20,101.22 93.20,101.30 C94.20,101.38 95.38,100.27 96.50,99.90 C97.62,99.53 98.72,99.02 99.90,99.10 C101.08,99.18 102.47,99.92 103.60,100.40 C104.73,100.88 105.47,102.32 106.70,102.00 C107.93,101.68 109.77,99.28 111.00,98.50 C112.23,97.72 113.27,98.33 114.10,97.30 C114.93,96.27 115.27,93.75 116.00,92.30 C116.73,90.85 117.68,88.60 118.50,88.60 C119.32,88.60 119.98,90.75 120.90,92.30 C121.82,93.85 122.87,96.55 124.00,97.90 C125.13,99.25 126.37,100.20 127.70,100.40 C129.03,100.60 130.77,100.45 132.00,99.10 C133.23,97.75 134.17,92.82 135.10,92.30 C136.03,91.78 136.77,94.25 137.60,96.00 C138.43,97.75 139.18,100.53 140.10,102.80 C141.02,105.07 142.28,108.87 143.10,109.60 C143.92,110.33 144.37,108.42 145.00,107.20 C145.63,105.98 146.28,104.45 146.90,102.30 C147.52,100.15 148.03,96.15 148.70,94.30 C149.37,92.45 150.18,91.20 150.90,91.20 C151.62,91.20 152.33,92.25 153.00,94.30 C153.67,96.35 154.28,100.32 154.90,103.50 C155.52,106.68 155.98,110.72 156.70,113.40 C157.42,116.08 158.27,118.88 159.20,119.60 C160.13,120.32 161.27,118.63 162.30,117.70 C163.33,116.77 164.48,114.92 165.40,114.00 C166.32,113.08 166.98,111.88 167.80,112.20 C168.62,112.52 169.47,114.37 170.30,115.90 C171.13,117.43 172.10,121.28 172.80,121.40 C173.50,121.52 173.82,118.43 174.50,116.60 C175.18,114.77 176.08,112.05 176.90,110.40 C177.72,108.75 178.57,106.18 179.40,106.70 C180.23,107.22 181.08,111.13 181.90,113.50 C182.72,115.87 183.38,118.22 184.30,120.90 C185.22,123.58 186.47,128.47 187.40,129.60 C188.33,130.73 189.17,129.05 189.90,127.70 C190.63,126.35 191.08,122.67 191.80,121.50 C192.52,120.33 193.18,120.80 194.20,120.70 C195.22,120.60 196.60,120.65 197.90,120.90 C199.20,121.15 200.65,121.88 202.00,122.20 C203.35,122.52 204.50,122.95 206.00,122.80 C207.50,122.65 208.95,122.03 211.00,121.30 C213.05,120.57 215.23,118.88 218.30,118.40 C221.37,117.92 225.35,118.40 229.40,118.40 C233.45,118.40 238.22,118.53 242.60,118.40 C246.98,118.27 251.98,117.83 255.70,117.60 C259.42,117.37 262.27,117.43 264.90,117.00 C267.53,116.57 269.42,115.72 271.50,115.00 C273.58,114.28 276.42,113.08 277.40,112.70" fill="none" stroke="#9b3fe0" stroke-width="1.45" stroke-linejoin="round"/>
<line x1="37.3" y1="11.4" x2="278.5" y2="11.4" stroke="#8a8a8a" stroke-width="1"/>
<line x1="41.0" y1="11.4" x2="41.0" y2="207.2" stroke="#cfcfcf" stroke-width="1.6"/>
<line x1="41.0" y1="207.2" x2="278.5" y2="207.2" stroke="#bfbfbf" stroke-width="1.5"/>
<line x1="278.5" y1="11.4" x2="278.5" y2="207.2" stroke="#c9a6ee" stroke-width="1"/>
<line x1="37.3" y1="11.4" x2="41.0" y2="11.4" stroke="#8a8a8a" stroke-width="0.9"/>
<text x="35.6" y="15.0" font-size="9.48" text-anchor="end" textLength="14.6" lengthAdjust="spacingAndGlyphs" fill="#262626" stroke="#262626" stroke-width="0.1" >0.2</text>
<line x1="278.5" y1="11.4" x2="281.9" y2="11.4" stroke="#a463e3" stroke-width="0.9"/>
<text x="283.2" y="15.0" font-size="9.48" textLength="14.6" lengthAdjust="spacingAndGlyphs" fill="#9150d2" stroke="#9150d2" stroke-width="0.1" >0.2</text>
<line x1="37.3" y1="52.5" x2="41.0" y2="52.5" stroke="#8a8a8a" stroke-width="0.9"/>
<text x="35.6" y="56.1" font-size="9.48" text-anchor="end" textLength="14.6" lengthAdjust="spacingAndGlyphs" fill="#262626" stroke="#262626" stroke-width="0.1" >0.1</text>
<line x1="278.5" y1="52.5" x2="281.9" y2="52.5" stroke="#a463e3" stroke-width="0.9"/>
<text x="283.2" y="56.1" font-size="9.48" textLength="14.6" lengthAdjust="spacingAndGlyphs" fill="#9150d2" stroke="#9150d2" stroke-width="0.1" >0.1</text>
<line x1="37.3" y1="93.1" x2="41.0" y2="93.1" stroke="#8a8a8a" stroke-width="0.9"/>
<text x="35.6" y="96.7" font-size="9.48" text-anchor="end" textLength="14.6" lengthAdjust="spacingAndGlyphs" fill="#262626" stroke="#262626" stroke-width="0.1" >0.0</text>
<line x1="278.5" y1="93.1" x2="281.9" y2="93.1" stroke="#a463e3" stroke-width="0.9"/>
<text x="283.2" y="96.7" font-size="9.48" textLength="14.6" lengthAdjust="spacingAndGlyphs" fill="#9150d2" stroke="#9150d2" stroke-width="0.1" >0.0</text>
<line x1="37.3" y1="133.6" x2="41.0" y2="133.6" stroke="#8a8a8a" stroke-width="0.9"/>
<text x="35.6" y="137.2" font-size="9.48" text-anchor="end" textLength="22.3" lengthAdjust="spacingAndGlyphs" fill="#262626" stroke="#262626" stroke-width="0.1" >−0.1</text>
<line x1="278.5" y1="133.6" x2="281.9" y2="133.6" stroke="#a463e3" stroke-width="0.9"/>
<text x="283.2" y="137.2" font-size="9.48" textLength="22.3" lengthAdjust="spacingAndGlyphs" fill="#9150d2" stroke="#9150d2" stroke-width="0.1" >−0.1</text>
<line x1="37.3" y1="174.7" x2="41.0" y2="174.7" stroke="#8a8a8a" stroke-width="0.9"/>
<text x="35.6" y="178.3" font-size="9.48" text-anchor="end" textLength="22.3" lengthAdjust="spacingAndGlyphs" fill="#262626" stroke="#262626" stroke-width="0.1" >−0.2</text>
<line x1="278.5" y1="174.7" x2="281.9" y2="174.7" stroke="#a463e3" stroke-width="0.9"/>
<text x="283.2" y="178.3" font-size="9.48" textLength="22.3" lengthAdjust="spacingAndGlyphs" fill="#9150d2" stroke="#9150d2" stroke-width="0.1" >−0.2</text>
<line x1="41.6" y1="207.2" x2="41.6" y2="210.8" stroke="#8a8a8a" stroke-width="0.9"/>
<text x="41.6" y="227.4" font-size="9.68" text-anchor="middle" textLength="23.9" lengthAdjust="spacingAndGlyphs" transform="rotate(-45 41.6 224.0)" fill="#262626" stroke="#262626" stroke-width="0.1" >1850</text>
<line x1="65.3" y1="207.2" x2="65.3" y2="210.8" stroke="#8a8a8a" stroke-width="0.9"/>
<text x="65.3" y="227.4" font-size="9.68" text-anchor="middle" textLength="23.9" lengthAdjust="spacingAndGlyphs" transform="rotate(-45 65.3 224.0)" fill="#262626" stroke="#262626" stroke-width="0.1" >1875</text>
<line x1="89.1" y1="207.2" x2="89.1" y2="210.8" stroke="#8a8a8a" stroke-width="0.9"/>
<text x="89.1" y="227.4" font-size="9.68" text-anchor="middle" textLength="23.9" lengthAdjust="spacingAndGlyphs" transform="rotate(-45 89.1 224.0)" fill="#262626" stroke="#262626" stroke-width="0.1" >1900</text>
<line x1="112.8" y1="207.2" x2="112.8" y2="210.8" stroke="#8a8a8a" stroke-width="0.9"/>
<text x="112.8" y="227.4" font-size="9.68" text-anchor="middle" textLength="23.9" lengthAdjust="spacingAndGlyphs" transform="rotate(-45 112.8 224.0)" fill="#262626" stroke="#262626" stroke-width="0.1" >1925</text>
<line x1="136.5" y1="207.2" x2="136.5" y2="210.8" stroke="#8a8a8a" stroke-width="0.9"/>
<text x="136.5" y="227.4" font-size="9.68" text-anchor="middle" textLength="23.9" lengthAdjust="spacingAndGlyphs" transform="rotate(-45 136.5 224.0)" fill="#262626" stroke="#262626" stroke-width="0.1" >1950</text>
<line x1="160.2" y1="207.2" x2="160.2" y2="210.8" stroke="#8a8a8a" stroke-width="0.9"/>
<text x="160.2" y="227.4" font-size="9.68" text-anchor="middle" textLength="23.9" lengthAdjust="spacingAndGlyphs" transform="rotate(-45 160.2 224.0)" fill="#262626" stroke="#262626" stroke-width="0.1" >1975</text>
<line x1="184.0" y1="207.2" x2="184.0" y2="210.8" stroke="#8a8a8a" stroke-width="0.9"/>
<text x="184.0" y="227.4" font-size="9.68" text-anchor="middle" textLength="23.9" lengthAdjust="spacingAndGlyphs" transform="rotate(-45 184.0 224.0)" fill="#262626" stroke="#262626" stroke-width="0.1" >2000</text>
<line x1="207.7" y1="207.2" x2="207.7" y2="210.8" stroke="#8a8a8a" stroke-width="0.9"/>
<text x="207.7" y="227.4" font-size="9.68" text-anchor="middle" textLength="23.9" lengthAdjust="spacingAndGlyphs" transform="rotate(-45 207.7 224.0)" fill="#262626" stroke="#262626" stroke-width="0.1" >2025</text>
<line x1="231.4" y1="207.2" x2="231.4" y2="210.8" stroke="#8a8a8a" stroke-width="0.9"/>
<text x="231.4" y="227.4" font-size="9.68" text-anchor="middle" textLength="23.9" lengthAdjust="spacingAndGlyphs" transform="rotate(-45 231.4 224.0)" fill="#262626" stroke="#262626" stroke-width="0.1" >2050</text>
<line x1="255.2" y1="207.2" x2="255.2" y2="210.8" stroke="#8a8a8a" stroke-width="0.9"/>
<text x="255.2" y="227.4" font-size="9.68" text-anchor="middle" textLength="23.9" lengthAdjust="spacingAndGlyphs" transform="rotate(-45 255.2 224.0)" fill="#262626" stroke="#262626" stroke-width="0.1" >2075</text>
<text x="272.7" y="227.4" font-size="9.68" text-anchor="middle" textLength="23.9" lengthAdjust="spacingAndGlyphs" transform="rotate(-45 272.7 224.0)" fill="#262626" stroke="#262626" stroke-width="0.1" >2100</text>
<text x="43.8" y="8.9" font-size="8.96" textLength="12.1" lengthAdjust="spacingAndGlyphs" fill="#262626" stroke="#262626" stroke-width="0.1" >(a)</text>
<text x="159.6" y="244.1" font-size="9.58" text-anchor="middle" textLength="53.7" lengthAdjust="spacingAndGlyphs" fill="#262626" stroke="#262626" stroke-width="0.1" >Time (year)</text>
<text x="9.9" y="204.3" font-size="9.75" textLength="189.8" lengthAdjust="spacingAndGlyphs" transform="rotate(-90 9.9 204.3)" fill="#262626" stroke="#262626" stroke-width="0.1" >Δ atmospheric radiative burden (W m<tspan font-size="6.8" dy="-3.6">−2</tspan><tspan dy="3.6">)</tspan></text>
<text x="309.9" y="64.0" font-size="9.94" textLength="93.0" lengthAdjust="spacingAndGlyphs" transform="rotate(90 309.9 64.0)" fill="#9150d2" stroke="#9150d2" stroke-width="0.1" >Δ Temperature (°C)</text>
<rect x="74.3" y="131.4" width="61.10000000000001" height="49.69999999999999" fill="#fff" stroke="#4a4a4a" stroke-width="0.8"/>
<line x1="92.6" y1="131.4" x2="92.6" y2="181.1" stroke="#ececec" stroke-width="0.6"/>
<line x1="110.5" y1="131.4" x2="110.5" y2="181.1" stroke="#ececec" stroke-width="0.6"/>
<line x1="128.4" y1="131.4" x2="128.4" y2="181.1" stroke="#ececec" stroke-width="0.6"/>
<line x1="74.3" y1="133.3" x2="135.4" y2="133.3" stroke="#ececec" stroke-width="0.6"/>
<line x1="71.89999999999999" y1="133.3" x2="74.3" y2="133.3" stroke="#555" stroke-width="0.7"/>
<line x1="74.3" y1="154.3" x2="135.4" y2="154.3" stroke="#ececec" stroke-width="0.6"/>
<line x1="71.89999999999999" y1="154.3" x2="74.3" y2="154.3" stroke="#555" stroke-width="0.7"/>
<line x1="74.3" y1="175.2" x2="135.4" y2="175.2" stroke="#ececec" stroke-width="0.6"/>
<line x1="71.89999999999999" y1="175.2" x2="74.3" y2="175.2" stroke="#555" stroke-width="0.7"/>
<line x1="75.2" y1="181.1" x2="75.2" y2="183.5" stroke="#555" stroke-width="0.7"/>
<line x1="92.6" y1="181.1" x2="92.6" y2="183.5" stroke="#555" stroke-width="0.7"/>
<line x1="110.5" y1="181.1" x2="110.5" y2="183.5" stroke="#555" stroke-width="0.7"/>
<line x1="128.3" y1="181.1" x2="128.3" y2="183.5" stroke="#555" stroke-width="0.7"/>
<path d="M77.20,133.30 C77.83,133.58 79.53,134.13 81.00,135.00 C82.47,135.87 84.58,137.42 86.00,138.50 C87.42,139.58 88.57,140.88 89.50,141.50 C90.43,142.12 90.83,141.98 91.60,142.20 C92.37,142.42 93.20,142.25 94.10,142.80 C95.00,143.35 96.08,144.47 97.00,145.50 C97.92,146.53 98.85,146.67 99.60,149.00 C100.35,151.33 100.92,156.35 101.50,159.50 C102.08,162.65 102.52,165.42 103.10,167.90 C103.68,170.38 104.40,172.82 105.00,174.40 C105.60,175.98 106.12,176.95 106.70,177.40 C107.28,177.85 107.87,177.72 108.50,177.10 C109.13,176.48 109.85,173.83 110.50,173.70 C111.15,173.57 111.70,175.35 112.40,176.30 C113.10,177.25 113.93,180.45 114.70,179.40 C115.47,178.35 116.10,172.97 117.00,170.00 C117.90,167.03 119.20,163.65 120.10,161.60 C121.00,159.55 121.25,158.87 122.40,157.70 C123.55,156.53 125.33,155.63 127.00,154.60 C128.67,153.57 131.50,152.02 132.40,151.50" fill="none" stroke="#d07844" stroke-width="1.0"/>
<path d="M77.20,133.30 C77.83,133.58 79.53,134.13 81.00,135.00 C82.47,135.87 84.58,137.42 86.00,138.50 C87.42,139.58 88.57,140.88 89.50,141.50 C90.43,142.12 90.83,141.98 91.60,142.20 C92.37,142.42 93.20,142.25 94.10,142.80 C95.00,143.35 96.08,144.47 97.00,145.50 C97.92,146.53 98.85,146.67 99.60,149.00 C100.35,151.33 100.92,156.50 101.50,159.50 C102.08,162.50 102.52,164.67 103.10,167.00 C103.68,169.33 104.40,171.92 105.00,173.50 C105.60,175.08 106.12,176.05 106.70,176.50 C107.28,176.95 107.87,176.82 108.50,176.20 C109.13,175.58 109.85,172.93 110.50,172.80 C111.15,172.67 111.70,174.45 112.40,175.40 C113.10,176.35 113.93,179.40 114.70,178.50 C115.47,177.60 116.10,172.82 117.00,170.00 C117.90,167.18 119.20,163.65 120.10,161.60 C121.00,159.55 121.25,158.87 122.40,157.70 C123.55,156.53 125.33,155.63 127.00,154.60 C128.67,153.57 131.50,152.02 132.40,151.50" fill="none" stroke="#3b3bc4" stroke-width="0.9" stroke-dasharray="2.6,1.0"/>
<text x="74.6" y="129.3" font-size="7.34" textLength="60.3" lengthAdjust="spacingAndGlyphs" fill="#262626" stroke="#262626" stroke-width="0.1" >Radiative forcing</text>
<text x="69.6" y="135.6" font-size="7.21" text-anchor="end" textLength="11.1" lengthAdjust="spacingAndGlyphs" transform="rotate(-45 69.6 135.6)" fill="#262626" stroke="#262626" stroke-width="0.1" >0.0</text>
<text x="69.6" y="156.6" font-size="7.21" text-anchor="end" textLength="17.0" lengthAdjust="spacingAndGlyphs" transform="rotate(-45 69.6 156.6)" fill="#262626" stroke="#262626" stroke-width="0.1" >−0.5</text>
<text x="69.6" y="177.5" font-size="7.21" text-anchor="end" textLength="17.0" lengthAdjust="spacingAndGlyphs" transform="rotate(-45 69.6 177.5)" fill="#262626" stroke="#262626" stroke-width="0.1" >−1.0</text>
<text x="49.2" y="167.9" font-size="7.1" textLength="23.6" lengthAdjust="spacingAndGlyphs" transform="rotate(-90 49.2 167.9)" fill="#262626" stroke="#262626" stroke-width="0.1" >W m<tspan font-size="4.8" dy="-2.6">−2</tspan></text>
<text x="74.7" y="198.2" font-size="7.31" text-anchor="middle" textLength="18.1" lengthAdjust="spacingAndGlyphs" transform="rotate(-45 74.7 195.6)" fill="#262626" stroke="#262626" stroke-width="0.1" >1840</text>
<text x="92.1" y="198.2" font-size="7.31" text-anchor="middle" textLength="18.1" lengthAdjust="spacingAndGlyphs" transform="rotate(-45 92.1 195.6)" fill="#262626" stroke="#262626" stroke-width="0.1" >1920</text>
<text x="110.0" y="198.2" font-size="7.31" text-anchor="middle" textLength="18.1" lengthAdjust="spacingAndGlyphs" transform="rotate(-45 110.0 195.6)" fill="#262626" stroke="#262626" stroke-width="0.1" >2000</text>
<text x="127.8" y="198.2" font-size="7.31" text-anchor="middle" textLength="18.1" lengthAdjust="spacingAndGlyphs" transform="rotate(-45 127.8 195.6)" fill="#262626" stroke="#262626" stroke-width="0.1" >2080</text>
<text x="159.8" y="8.8" font-size="10.36" text-anchor="middle" textLength="169.3" lengthAdjust="spacingAndGlyphs" fill="#262626" stroke="#262626" stroke-width="0.1" >no plumes only land − no plumes</text>
<polygon points="486.3,86.1 487.2,86.1 487.2,87.5 488.2,87.5 488.2,86.6 489.1,86.6 489.1,85.2 490.1,85.2 490.1,83.9 491.0,83.9 491.0,86.2 492.0,86.2 492.0,86.2 492.9,86.2 492.9,85.0 493.9,85.0 493.9,85.0 494.8,85.0 494.8,83.9 495.8,83.9 495.8,83.0 496.7,83.0 496.7,84.5 497.7,84.5 497.7,85.3 498.6,85.3 498.6,83.3 499.6,83.3 499.6,85.8 500.5,85.8 500.5,84.1 501.5,84.1 501.5,84.3 502.4,84.3 502.4,83.7 503.4,83.7 503.4,85.6 504.3,85.6 504.3,85.5 505.3,85.5 505.3,85.2 506.2,85.2 506.2,84.8 507.2,84.8 507.2,82.4 508.1,82.4 508.1,82.0 509.1,82.0 509.1,80.4 510.0,80.4 510.0,76.7 511.0,76.7 510.9,77.7 511.9,77.7 511.9,73.0 512.8,73.0 512.8,70.5 513.8,70.5 513.8,73.0 514.7,73.0 514.7,69.9 515.7,69.9 515.7,72.9 516.6,72.9 516.6,70.5 517.6,70.5 517.6,68.5 518.5,68.5 518.5,65.4 519.5,65.4 519.5,65.9 520.4,65.9 520.4,64.7 521.4,64.7 521.4,64.1 522.3,64.1 522.3,69.5 523.3,69.5 523.3,69.4 524.2,69.4 524.2,72.0 525.2,72.0 525.2,69.6 526.1,69.6 526.1,72.6 527.1,72.6 527.1,72.1 528.0,72.1 528.0,71.5 529.0,71.5 529.0,71.3 529.9,71.3 529.9,70.2 530.9,70.2 530.9,70.4 531.8,70.4 531.8,67.6 532.8,67.6 532.8,68.6 533.7,68.6 533.7,69.6 534.7,69.6 534.7,66.6 535.6,66.6 535.6,68.6 536.6,68.6 536.6,67.5 537.5,67.5 537.5,64.6 538.5,64.6 538.5,63.5 539.4,63.5 539.4,62.9 540.4,62.9 540.4,61.9 541.3,61.9 541.3,63.7 542.3,63.7 542.3,60.6 543.2,60.6 543.2,58.5 544.2,58.5 544.2,58.1 545.1,58.1 545.1,61.1 546.1,61.1 546.1,63.3 547.0,63.3 547.0,62.4 548.0,62.4 548.0,63.1 548.9,63.1 548.9,63.6 549.9,63.6 549.9,64.7 550.8,64.7 550.8,62.9 551.8,62.9 551.8,64.8 552.7,64.8 552.7,64.8 553.7,64.8 553.7,64.9 554.6,64.9 554.6,63.0 555.6,63.0 555.6,62.9 556.5,62.9 556.5,63.4 557.5,63.4 557.5,65.6 558.4,65.6 558.4,62.2 559.4,62.2 559.4,62.0 560.3,62.0 560.3,59.7 561.3,59.7 561.3,57.7 562.2,57.7 562.2,56.9 563.2,56.9 563.2,59.4 564.1,59.4 564.1,58.8 565.1,58.8 565.1,56.7 566.0,56.7 566.0,58.1 567.0,58.1 567.0,58.8 567.9,58.8 567.9,60.4 568.9,60.4 568.9,61.3 569.8,61.3 569.8,59.7 570.8,59.7 570.8,62.2 571.7,62.2 571.7,62.3 572.7,62.3 572.7,61.0 573.6,61.0 573.6,62.3 574.6,62.3 574.6,61.0 575.5,61.0 575.5,60.8 576.5,60.8 576.5,60.6 577.4,60.6 577.4,62.7 578.4,62.7 578.3,62.3 579.3,62.3 579.3,63.1 578.3,63.1 578.4,63.2 577.4,63.2 577.4,63.2 576.5,63.2 576.5,63.3 575.5,63.3 575.5,63.3 574.6,63.3 574.6,63.6 573.6,63.6 573.6,63.9 572.7,63.9 572.7,64.1 571.7,64.1 571.7,64.4 570.8,64.4 570.8,64.7 569.8,64.7 569.8,65.0 568.9,65.0 568.9,65.3 567.9,65.3 567.9,65.6 567.0,65.6 567.0,65.9 566.0,65.9 566.0,66.1 565.1,66.1 565.1,66.4 564.1,66.4 564.1,66.6 563.2,66.6 563.2,66.8 562.2,66.8 562.2,67.0 561.3,67.0 561.3,67.2 560.3,67.2 560.3,67.4 559.4,67.4 559.4,67.7 558.4,67.7 558.4,67.9 557.5,67.9 557.5,68.1 556.5,68.1 556.5,68.3 555.6,68.3 555.6,68.5 554.6,68.5 554.6,68.6 553.7,68.6 553.7,68.8 552.7,68.8 552.7,69.0 551.8,69.0 551.8,69.1 550.8,69.1 550.8,69.3 549.9,69.3 549.9,69.5 548.9,69.5 548.9,69.6 548.0,69.6 548.0,69.9 547.0,69.9 547.0,70.2 546.1,70.2 546.1,70.5 545.1,70.5 545.1,70.9 544.2,70.9 544.2,71.2 543.2,71.2 543.2,71.5 542.3,71.5 542.3,71.9 541.3,71.9 541.3,72.2 540.4,72.2 540.4,72.5 539.4,72.5 539.4,72.9 538.5,72.9 538.5,73.4 537.5,73.4 537.5,73.8 536.6,73.8 536.6,74.2 535.6,74.2 535.6,74.6 534.7,74.6 534.7,75.0 533.7,75.0 533.7,75.4 532.8,75.4 532.8,75.8 531.8,75.8 531.8,76.2 530.9,76.2 530.9,76.6 529.9,76.6 529.9,77.0 529.0,77.0 529.0,77.2 528.0,77.2 528.0,77.5 527.1,77.5 527.1,77.8 526.1,77.8 526.1,78.0 525.2,78.0 525.2,78.3 524.2,78.3 524.2,78.6 523.3,78.6 523.3,79.0 522.3,79.0 522.3,79.5 521.4,79.5 521.4,79.9 520.4,79.9 520.4,80.3 519.5,80.3 519.5,80.5 518.5,80.5 518.5,80.8 517.6,80.8 517.6,81.0 516.6,81.0 516.6,81.2 515.7,81.2 515.7,81.4 514.7,81.4 514.7,81.9 513.8,81.9 513.8,82.3 512.8,82.3 512.8,82.8 511.9,82.8 511.9,83.3 510.9,83.3 511.0,83.8 510.0,83.8 510.0,84.2 509.1,84.2 509.1,84.6 508.1,84.6 508.1,84.9 507.2,84.9 507.2,85.3 506.2,85.3 506.2,85.7 505.3,85.7 505.3,86.0 504.3,86.0 504.3,86.1 503.4,86.1 503.4,86.1 502.4,86.1 502.4,86.2 501.5,86.2 501.5,86.2 500.5,86.2 500.5,86.3 499.6,86.3 499.6,86.4 498.6,86.4 498.6,86.6 497.7,86.6 497.7,86.7 496.7,86.7 496.7,86.8 495.8,86.8 495.8,87.0 494.8,87.0 494.8,87.2 493.9,87.2 493.9,87.5 492.9,87.5 492.9,87.8 492.0,87.8 492.0,88.1 491.0,88.1 491.0,88.3 490.1,88.3 490.1,88.6 489.1,88.6 489.1,88.9 488.2,88.9 488.2,89.2 487.2,89.2 487.2,89.5 486.3,89.5" fill="#abf8b1" />
<polygon points="408.3,93.2 440.0,93.0 460.0,92.5 470.0,92.0 480.0,91.0 490.0,88.0 495.0,86.5 500.0,85.8 505.0,85.5 510.0,83.5 515.0,81.0 520.0,79.8 524.0,78.0 530.0,76.3 540.0,72.0 548.0,69.2 556.0,67.8 565.0,65.8 575.0,62.8 590.0,62.2 600.0,62.6 610.0,63.6 630.0,65.4 645.6,66.7 645.6,68.8 630.0,67.3 610.0,66.2 600.0,65.2 590.0,64.8 575.0,65.0 565.0,66.8 556.0,68.2 548.0,69.5 540.0,72.5 530.0,77.0 524.0,78.5 520.0,80.3 515.0,82.5 510.0,84.5 505.0,86.0 500.0,86.3 495.0,87.0 490.0,88.5 480.0,91.2 470.0,92.2 460.0,92.6 440.0,93.0 408.3,93.2" fill="#cff6f8" />
<polygon points="408.3,93.2 440.0,93.0 460.0,92.6 470.0,92.2 480.0,91.2 490.0,88.5 495.0,87.0 500.0,86.3 505.0,86.0 510.0,84.5 515.0,82.5 520.0,80.3 524.0,78.5 530.0,77.0 540.0,72.5 548.0,69.5 556.0,68.2 565.0,66.8 575.0,65.0 590.0,64.8 600.0,65.2 610.0,66.2 630.0,67.3 645.6,68.8 645.6,93.2 630.0,93.2 610.0,93.2 600.0,93.2 590.0,93.2 575.0,93.2 565.0,93.2 556.0,93.2 548.0,93.2 540.0,93.2 530.0,93.2 524.0,93.2 520.0,93.2 515.0,93.2 510.0,93.2 505.0,93.2 500.0,93.2 495.0,93.2 490.0,93.2 480.0,93.2 470.0,93.2 460.0,93.2 440.0,93.2 408.3,93.2" fill="#7ddce5" />
<polygon points="577.4,113.8 578.4,113.8 578.3,113.9 579.3,113.9 579.3,114.0 580.2,114.0 580.2,114.0 581.2,114.0 581.2,114.0 582.1,114.0 582.1,114.0 583.1,114.0 583.1,114.0 584.0,114.0 584.0,114.0 585.0,114.0 585.0,114.1 585.9,114.1 585.9,114.1 586.9,114.1 586.9,114.1 587.8,114.1 587.8,114.1 588.8,114.1 588.8,114.1 589.7,114.1 589.7,114.1 590.7,114.1 590.7,114.1 591.6,114.1 591.6,114.1 592.6,114.1 592.6,114.1 593.5,114.1 593.5,114.1 594.5,114.1 594.5,114.1 595.4,114.1 595.4,114.2 596.4,114.2 596.4,114.2 597.3,114.2 597.3,114.2 598.3,114.2 598.3,114.2 599.2,114.2 599.2,114.2 600.2,114.2 600.2,114.2 601.1,114.2 601.1,114.2 602.1,114.2 602.1,114.2 603.0,114.2 603.0,114.2 604.0,114.2 604.0,114.2 604.9,114.2 604.9,114.2 605.9,114.2 605.9,114.2 606.8,114.2 606.8,114.2 607.8,114.2 607.8,114.2 608.7,114.2 608.7,114.2 609.7,114.2 609.7,114.2 610.6,114.2 610.6,114.2 611.6,114.2 611.6,114.2 612.5,114.2 612.5,114.2 613.5,114.2 613.5,114.2 614.4,114.2 614.4,114.2 615.4,114.2 615.4,114.2 616.3,114.2 616.3,114.2 617.3,114.2 617.3,114.2 618.2,114.2 618.2,114.2 619.2,114.2 619.2,114.2 620.1,114.2 620.1,114.2 621.1,114.2 621.1,114.2 622.0,114.2 622.0,114.2 623.0,114.2 623.0,114.2 623.9,114.2 623.9,114.2 624.9,114.2 624.9,114.2 625.8,114.2 625.8,114.2 626.8,114.2 626.8,114.2 627.7,114.2 627.7,114.2 628.7,114.2 628.7,114.2 629.6,114.2 629.6,114.2 630.6,114.2 630.6,114.2 631.5,114.2 631.5,114.2 632.5,114.2 632.5,114.1 633.4,114.1 633.4,114.1 634.4,114.1 634.4,114.1 635.3,114.1 635.3,114.1 636.3,114.1 636.3,114.1 637.2,114.1 637.2,114.1 638.2,114.1 638.2,114.1 639.1,114.1 639.1,114.1 640.1,114.1 640.1,114.1 641.0,114.1 641.0,114.1 642.0,114.1 642.0,114.1 642.9,114.1 642.9,114.1 643.9,114.1 643.9,114.1 644.8,114.1 644.8,114.1 645.8,114.1 645.8,118.0 644.8,118.0 644.8,117.3 643.9,117.3 643.9,117.6 642.9,117.6 642.9,115.6 642.0,115.6 642.0,116.6 641.0,116.6 641.0,115.7 640.1,115.7 640.1,118.1 639.1,118.1 639.1,116.0 638.2,116.0 638.2,118.1 637.2,118.1 637.2,117.1 636.3,117.1 636.3,118.0 635.3,118.0 635.3,117.0 634.4,117.0 634.4,116.3 633.4,116.3 633.4,117.8 632.5,117.8 632.5,117.5 631.5,117.5 631.5,117.7 630.6,117.7 630.6,116.0 629.6,116.0 629.6,116.4 628.7,116.4 628.7,117.1 627.7,117.1 627.7,117.7 626.8,117.7 626.8,116.5 625.8,116.5 625.8,116.5 624.9,116.5 624.9,116.7 623.9,116.7 623.9,116.6 623.0,116.6 623.0,117.9 622.0,117.9 622.0,117.3 621.1,117.3 621.1,116.5 620.1,116.5 620.1,115.9 619.2,115.9 619.2,116.1 618.2,116.1 618.2,116.1 617.3,116.1 617.3,116.3 616.3,116.3 616.3,118.0 615.4,118.0 615.4,116.7 614.4,116.7 614.4,116.3 613.5,116.3 613.5,116.3 612.5,116.3 612.5,117.5 611.6,117.5 611.6,117.1 610.6,117.1 610.6,117.4 609.7,117.4 609.7,117.8 608.7,117.8 608.7,117.2 607.8,117.2 607.8,116.1 606.8,116.1 606.8,116.8 605.9,116.8 605.9,117.7 604.9,117.7 604.9,117.4 604.0,117.4 604.0,116.9 603.0,116.9 603.0,117.9 602.1,117.9 602.1,116.9 601.1,116.9 601.1,118.5 600.2,118.5 600.2,117.6 599.2,117.6 599.2,117.7 598.3,117.7 598.3,117.5 597.3,117.5 597.3,117.9 596.4,117.9 596.4,116.0 595.4,116.0 595.4,116.8 594.5,116.8 594.5,117.7 593.5,117.7 593.5,117.1 592.6,117.1 592.6,116.8 591.6,116.8 591.6,117.5 590.7,117.5 590.7,115.9 589.7,115.9 589.7,115.7 588.8,115.7 588.8,116.8 587.8,116.8 587.8,116.1 586.9,116.1 586.9,116.7 585.9,116.7 585.9,116.0 585.0,116.0 585.0,115.8 584.0,115.8 584.0,116.8 583.1,116.8 583.1,116.5 582.1,116.5 582.1,116.9 581.2,116.9 581.2,115.5 580.2,115.5 580.2,117.6 579.3,117.6 579.3,117.6 578.3,117.6 578.4,117.4 577.4,117.4" fill="#abf8b1" />
<polygon points="408.3,93.2 440.0,93.2 460.0,93.2 480.0,93.4 500.0,94.2 510.0,95.0 515.0,95.7 520.0,96.5 530.0,99.7 540.0,100.6 550.0,104.3 560.0,106.8 570.0,108.6 580.0,110.3 600.0,111.6 620.0,111.7 645.6,111.8 645.6,114.6 620.0,114.7 600.0,114.7 580.0,114.5 570.0,113.5 560.0,111.7 550.0,109.5 540.0,106.8 530.0,104.8 520.0,101.8 515.0,100.5 510.0,98.8 500.0,97.1 480.0,95.2 460.0,94.5 440.0,93.8 408.3,93.4" fill="#f19e6c" />
<polygon points="408.3,93.2 440.0,93.2 460.0,93.2 480.0,93.3 500.0,94.0 510.0,94.8 515.0,95.4 520.0,96.2 530.0,98.4 540.0,99.4 550.0,102.3 560.0,105.3 570.0,107.0 580.0,108.0 600.0,108.5 620.0,108.4 645.6,108.2 645.6,111.8 620.0,111.7 600.0,111.6 580.0,110.3 570.0,108.6 560.0,106.8 550.0,104.3 540.0,100.6 530.0,99.7 520.0,96.5 515.0,95.7 510.0,95.0 500.0,94.2 480.0,93.4 460.0,93.2 440.0,93.2 408.3,93.2" fill="#a8f1e8" />
<polygon points="408.3,93.2 440.0,93.2 460.0,93.2 480.0,93.3 500.0,93.8 510.0,94.5 515.0,95.0 520.0,95.6 530.0,97.4 540.0,97.9 550.0,99.4 560.0,100.4 570.0,100.4 580.0,100.4 600.0,100.6 620.0,100.5 645.6,100.2 645.6,108.2 620.0,108.4 600.0,108.5 580.0,108.0 570.0,107.0 560.0,105.3 550.0,102.3 540.0,99.4 530.0,98.4 520.0,96.2 515.0,95.4 510.0,94.8 500.0,94.0 480.0,93.3 460.0,93.2 440.0,93.2 408.3,93.2" fill="#77a8d8" />
<polygon points="408.3,93.2 440.0,93.2 460.0,93.2 480.0,93.2 500.0,93.2 510.0,93.2 515.0,93.2 520.0,93.2 530.0,93.2 540.0,93.2 550.0,93.2 560.0,93.2 570.0,93.2 580.0,93.2 600.0,93.2 620.0,93.2 645.6,93.2 645.6,100.2 620.0,100.5 600.0,100.6 580.0,100.4 570.0,100.4 560.0,100.4 550.0,99.4 540.0,97.9 530.0,97.4 520.0,95.6 515.0,95.0 510.0,94.5 500.0,93.8 480.0,93.3 460.0,93.2 440.0,93.2 408.3,93.2" fill="#7689a2" />
<path d="M409.40,93.02h0.9v0.56h-0.9zM412.25,93.86h0.9v0.56h-0.9zM413.20,91.03h0.9v3.79h-0.9zM414.15,91.51h0.9v3.70h-0.9zM416.04,92.63h0.9v2.68h-0.9zM422.69,90.16h0.9v1.65h-0.9zM425.54,92.18h0.9v1.08h-0.9zM431.23,87.51h0.9v4.18h-0.9zM433.13,89.37h0.9v3.68h-0.9zM435.98,91.39h0.9v3.98h-0.9zM437.88,90.89h0.9v3.20h-0.9zM449.27,91.37h0.9v3.12h-0.9zM452.12,92.52h0.9v0.96h-0.9zM455.92,90.90h0.9v2.00h-0.9zM459.71,89.77h0.9v2.27h-0.9zM464.46,91.08h0.9v0.49h-0.9zM466.36,91.17h0.9v0.97h-0.9zM473.00,89.39h0.9v1.86h-0.9zM475.85,88.22h0.9v0.56h-0.9zM476.80,84.42h0.9v3.63h-0.9zM480.60,87.79h0.9v3.83h-0.9zM483.44,89.04h0.9v1.88h-0.9zM484.39,89.03h0.9v0.88h-0.9zM485.34,88.28h0.9v0.62h-0.9zM487.24,86.30h0.9v3.07h-0.9zM488.19,88.56h0.9v0.97h-0.9zM490.09,85.09h0.9v0.92h-0.9zM500.53,91.34h0.9v0.62h-0.9zM506.23,91.01h0.9v4.27h-0.9zM507.18,91.59h0.9v2.12h-0.9zM508.13,89.47h0.9v1.90h-0.9zM512.87,75.45h0.9v3.89h-0.9z" fill="#abf8b1"/>
<path d="M412.25,93.42h0.9v3.26h-0.9zM415.10,94.61h0.9v3.26h-0.9zM425.54,92.26h0.9v3.04h-0.9zM434.08,93.23h0.9v1.07h-0.9zM436.93,93.73h0.9v1.61h-0.9zM437.88,93.09h0.9v1.36h-0.9zM438.83,92.45h0.9v2.62h-0.9zM441.68,90.53h0.9v0.55h-0.9zM442.62,89.89h0.9v4.36h-0.9zM445.47,90.04h0.9v0.74h-0.9zM446.42,90.68h0.9v1.58h-0.9zM447.37,91.77h0.9v1.38h-0.9zM448.32,92.87h0.9v0.96h-0.9zM455.92,91.90h0.9v2.41h-0.9zM458.76,91.33h0.9v4.36h-0.9zM459.71,91.05h0.9v2.71h-0.9zM464.46,90.58h0.9v2.47h-0.9zM466.36,91.14h0.9v0.44h-0.9zM472.05,91.20h0.9v4.38h-0.9zM474.90,88.60h0.9v1.99h-0.9zM477.75,88.00h0.9v0.93h-0.9zM480.60,90.62h0.9v3.12h-0.9zM493.89,80.30h0.9v0.46h-0.9zM494.84,79.48h0.9v2.92h-0.9zM496.73,81.71h0.9v0.94h-0.9zM498.63,87.24h0.9v4.63h-0.9zM503.38,94.79h0.9v4.70h-0.9zM508.13,90.37h0.9v3.90h-0.9zM510.03,84.67h0.9v0.56h-0.9z" fill="#abf8b1"/>
<polygon points="408.4,94.2 409.4,94.2 409.4,94.0 410.3,94.0 410.3,94.0 411.3,94.0 411.3,93.0 412.2,93.0 412.2,93.7 413.2,93.7 413.2,93.7 414.1,93.7 414.1,94.1 415.1,94.1 415.1,95.5 416.0,95.5 416.0,93.5 417.0,93.5 417.0,93.5 417.9,93.5 417.9,93.6 418.9,93.6 418.9,93.2 419.8,93.2 419.8,93.9 420.8,93.9 420.8,92.0 421.7,92.0 421.7,92.2 422.7,92.2 422.7,92.4 423.6,92.4 423.6,93.5 424.6,93.5 424.6,93.4 425.5,93.4 425.5,93.3 426.5,93.3 426.5,93.4 427.4,93.4 427.4,93.0 428.4,93.0 428.4,93.4 429.3,93.4 429.3,92.5 430.3,92.5 430.3,91.4 431.2,91.4 431.2,92.7 432.2,92.7 432.2,92.6 433.1,92.6 433.1,93.8 434.1,93.8 434.1,93.0 435.0,93.0 435.0,94.2 436.0,94.2 436.0,94.9 436.9,94.9 436.9,94.0 437.9,94.0 437.9,94.0 438.8,94.0 438.8,94.7 439.8,94.7 439.8,93.7 440.7,93.7 440.7,93.2 441.7,93.2 441.7,92.0 442.6,92.0 442.6,91.8 443.5,91.8 443.5,91.5 444.5,91.5 444.5,90.3 445.4,90.3 445.4,92.6 446.4,92.6 446.4,92.1 447.3,92.1 447.3,92.7 448.3,92.7 448.3,92.6 449.2,92.6 449.2,93.4 450.2,93.4 450.2,92.7 451.1,92.7 451.1,93.1 452.1,93.1 452.1,94.0 453.0,94.0 453.0,94.3 454.0,94.3 454.0,93.8 454.9,93.8 454.9,94.6 455.9,94.6 455.9,93.9 456.8,93.9 456.8,93.1 457.8,93.1 457.8,94.1 458.7,94.1 458.7,93.4 459.7,93.4 459.7,93.7 460.6,93.7 460.6,92.9 461.6,92.9 461.6,93.1 462.5,93.1 462.5,91.3 463.5,91.3 463.5,91.6 464.4,91.6 464.4,93.2 465.4,93.2 465.4,91.6 466.3,91.6 466.3,93.7 467.3,93.7 467.3,94.1 468.2,94.1 468.2,93.0 469.2,93.0 469.2,93.5 470.1,93.5 470.1,94.2 471.1,94.2 471.1,94.8 472.0,94.8 472.0,93.6 473.0,93.6 473.0,92.4 473.9,92.4 473.9,91.6 474.9,91.6 474.9,89.9 475.8,89.9 475.8,88.5 476.8,88.5 476.8,89.0 477.7,89.0 477.7,90.5 478.7,90.5 478.7,91.5 479.6,91.5 479.6,91.6 480.6,91.6 480.6,91.3 481.5,91.3 481.5,92.4 482.5,92.4 482.5,92.5 483.4,92.5 483.4,91.1 484.4,91.1 484.4,89.7 485.3,89.7 485.3,89.0 486.3,89.0 486.3,89.8 487.2,89.8 487.2,89.3 488.2,89.3 488.2,89.4 489.1,89.4 489.1,87.8 490.1,87.8 490.1,85.8 491.0,85.8 491.0,85.5 492.0,85.5 492.0,84.4 492.9,84.4 492.9,82.2 493.9,82.2 493.9,82.3 494.8,82.3 494.8,81.9 495.8,81.9 495.8,81.5 496.7,81.5 496.7,83.1 497.7,83.1 497.7,86.5 498.6,86.5 498.6,89.5 499.6,89.5 499.6,91.7 500.5,91.7 500.5,93.2 501.5,93.2 501.5,94.0 502.4,94.0 502.4,93.4 503.4,93.4 503.4,95.0 504.3,95.0 504.3,96.2 505.3,96.2 505.3,94.5 506.2,94.5 506.2,93.9 507.2,93.9 507.2,92.8 508.1,92.8 508.1,92.8 509.1,92.8 509.1,88.8 510.0,88.8 510.0,86.7 511.0,86.7 510.9,83.9 511.9,83.9 511.9,81.7 512.8,81.7 512.8,80.0 513.8,80.0 513.8,79.2 514.7,79.2 514.7,77.1 515.7,77.1 515.7,76.2 516.6,76.2 516.6,75.5 517.6,75.5 517.6,75.8 518.5,75.8 518.5,76.4 519.5,76.4 519.5,77.5 520.4,77.5 520.4,79.0 521.4,79.0 521.4,78.6 522.3,78.6 522.3,81.0 523.3,81.0 523.3,82.0 524.2,82.0 524.2,82.3 525.2,82.3 525.2,83.0 526.1,83.0 526.1,84.3 527.1,84.3 527.1,86.9 528.0,86.9 528.0,86.7 529.0,86.7 529.0,88.9 529.9,88.9 529.9,89.9 530.9,89.9 530.9,89.6 531.8,89.6 531.8,90.0 532.8,90.0 532.8,91.8 533.7,91.8 533.7,89.9 534.7,89.9 534.7,89.6 535.6,89.6 535.6,89.2 536.6,89.2 536.6,86.5 537.5,86.5 537.5,84.3 538.5,84.3 538.5,82.0 539.4,82.0 539.4,80.5 540.4,80.5 540.4,78.3 541.3,78.3 541.3,75.6 542.3,75.6 542.3,74.9 543.2,74.9 543.2,73.8 544.2,73.8 544.2,73.2 545.1,73.2 545.1,72.7 546.1,72.7 546.1,74.5 547.0,74.5 547.0,77.3 548.0,77.3 548.0,77.5 548.9,77.5 548.9,80.8 549.9,80.8 549.9,84.2 550.8,84.2 550.8,85.0 551.8,85.0 551.8,85.7 552.7,85.7 552.7,87.2 553.7,87.2 553.7,86.7 554.6,86.7 554.6,86.1 555.6,86.1 555.6,85.5 556.5,85.5 556.5,84.6 557.5,84.6 557.5,84.7 558.4,84.7 558.4,84.4 559.4,84.4 559.4,84.0 560.3,84.0 560.3,84.0 561.3,84.0 561.3,81.7 562.2,81.7 562.2,81.7 563.2,81.7 563.2,82.7 564.1,82.7 564.1,82.1 565.1,82.1 565.1,81.9 566.0,81.9 566.0,80.8 567.0,80.8 567.0,80.6 567.9,80.6 567.9,81.0 568.9,81.0 568.9,82.5 569.8,82.5 569.8,82.6 570.8,82.6 570.8,82.2 571.7,82.2 571.7,83.0 572.7,83.0 572.7,83.4 573.6,83.4 573.6,82.6 574.6,82.6 574.6,82.4 575.5,82.4 575.5,84.0 576.5,84.0 576.5,83.9 577.4,83.9 577.4,84.3 578.4,84.3 578.3,84.4 579.3,84.4 579.3,83.8 580.2,83.8 580.2,84.6 581.2,84.6 581.2,84.3 582.1,84.3 582.1,85.6 583.1,85.6 583.1,84.2 584.0,84.2 584.0,85.6 585.0,85.6 585.0,85.1 585.9,85.1 585.9,86.5 586.9,86.5 586.9,86.5 587.8,86.5 587.8,85.5 588.8,85.5 588.8,85.4 589.7,85.4 589.7,86.0 590.7,86.0 590.7,87.6 591.6,87.6 591.6,87.3 592.6,87.3 592.6,87.2 593.5,87.2 593.5,86.4 594.5,86.4 594.5,86.5 595.4,86.5 595.4,87.0 596.4,87.0 596.4,87.3 597.3,87.3 597.3,87.6 598.3,87.6 598.3,86.6 599.2,86.6 599.2,88.3 600.2,88.3 600.2,87.2 601.1,87.2 601.1,88.2 602.1,88.2 602.1,87.5 603.0,87.5 603.0,87.6 604.0,87.6 604.0,88.8 604.9,88.8 604.9,87.6 605.9,87.6 605.9,88.3 606.8,88.3 606.8,89.2 607.8,89.2 607.8,89.2 608.7,89.2 608.7,89.0 609.7,89.0 609.7,88.2 610.6,88.2 610.6,89.0 611.6,89.0 611.6,88.8 612.5,88.8 612.5,88.5 613.5,88.5 613.5,89.5 614.4,89.5 614.4,89.3 615.4,89.3 615.4,89.8 616.3,89.8 616.3,88.9 617.3,88.9 617.3,88.4 618.2,88.4 618.2,88.7 619.2,88.7 619.2,89.7 620.1,89.7 620.1,89.7 621.1,89.7 621.1,89.6 622.0,89.6 622.0,89.2 623.0,89.2 623.0,89.6 623.9,89.6 623.9,88.6 624.9,88.6 624.9,88.7 625.8,88.7 625.8,90.2 626.8,90.2 626.8,88.9 627.7,88.9 627.7,89.9 628.7,89.9 628.7,89.4 629.6,89.4 629.6,89.1 630.6,89.1 630.6,90.4 631.5,90.4 631.5,90.7 632.5,90.7 632.5,89.6 633.4,89.6 633.4,89.3 634.4,89.3 634.4,90.0 635.3,90.0 635.3,89.3 636.3,89.3 636.3,91.1 637.2,91.1 637.2,89.3 638.2,89.3 638.2,90.3 639.1,90.3 639.1,89.6 640.1,89.6 640.1,89.4 641.0,89.4 641.0,91.4 642.0,91.4 642.0,90.8 642.9,90.8 642.9,90.9 643.9,90.9 643.9,91.1 644.8,91.1 644.8,91.2 645.8,91.2 645.8,93.2 644.8,93.2 644.8,93.2 643.9,93.2 643.9,93.2 642.9,93.2 642.9,93.2 642.0,93.2 642.0,93.2 641.0,93.2 641.0,93.2 640.1,93.2 640.1,93.2 639.1,93.2 639.1,93.2 638.2,93.2 638.2,93.2 637.2,93.2 637.2,93.2 636.3,93.2 636.3,93.2 635.3,93.2 635.3,93.2 634.4,93.2 634.4,93.2 633.4,93.2 633.4,93.2 632.5,93.2 632.5,93.2 631.5,93.2 631.5,93.2 630.6,93.2 630.6,93.2 629.6,93.2 629.6,93.2 628.7,93.2 628.7,93.2 627.7,93.2 627.7,93.2 626.8,93.2 626.8,93.2 625.8,93.2 625.8,93.2 624.9,93.2 624.9,93.2 623.9,93.2 623.9,93.2 623.0,93.2 623.0,93.2 622.0,93.2 622.0,93.2 621.1,93.2 621.1,93.2 620.1,93.2 620.1,93.2 619.2,93.2 619.2,93.2 618.2,93.2 618.2,93.2 617.3,93.2 617.3,93.2 616.3,93.2 616.3,93.2 615.4,93.2 615.4,93.2 614.4,93.2 614.4,93.2 613.5,93.2 613.5,93.2 612.5,93.2 612.5,93.2 611.6,93.2 611.6,93.2 610.6,93.2 610.6,93.2 609.7,93.2 609.7,93.2 608.7,93.2 608.7,93.2 607.8,93.2 607.8,93.2 606.8,93.2 606.8,93.2 605.9,93.2 605.9,93.2 604.9,93.2 604.9,93.2 604.0,93.2 604.0,93.2 603.0,93.2 603.0,93.2 602.1,93.2 602.1,93.2 601.1,93.2 601.1,93.2 600.2,93.2 600.2,93.2 599.2,93.2 599.2,93.2 598.3,93.2 598.3,93.2 597.3,93.2 597.3,93.2 596.4,93.2 596.4,93.2 595.4,93.2 595.4,93.2 594.5,93.2 594.5,93.2 593.5,93.2 593.5,93.2 592.6,93.2 592.6,93.2 591.6,93.2 591.6,93.2 590.7,93.2 590.7,93.2 589.7,93.2 589.7,93.2 588.8,93.2 588.8,93.2 587.8,93.2 587.8,93.2 586.9,93.2 586.9,93.2 585.9,93.2 585.9,93.2 585.0,93.2 585.0,93.2 584.0,93.2 584.0,93.2 583.1,93.2 583.1,93.2 582.1,93.2 582.1,93.2 581.2,93.2 581.2,93.2 580.2,93.2 580.2,93.2 579.3,93.2 579.3,93.2 578.3,93.2 578.4,93.2 577.4,93.2 577.4,93.2 576.5,93.2 576.5,93.2 575.5,93.2 575.5,93.2 574.6,93.2 574.6,93.2 573.6,93.2 573.6,93.2 572.7,93.2 572.7,93.2 571.7,93.2 571.7,93.2 570.8,93.2 570.8,93.2 569.8,93.2 569.8,93.2 568.9,93.2 568.9,93.2 567.9,93.2 567.9,93.2 567.0,93.2 567.0,93.2 566.0,93.2 566.0,93.2 565.1,93.2 565.1,93.2 564.1,93.2 564.1,93.2 563.2,93.2 563.2,93.2 562.2,93.2 562.2,93.2 561.3,93.2 561.3,93.2 560.3,93.2 560.3,93.2 559.4,93.2 559.4,93.2 558.4,93.2 558.4,93.2 557.5,93.2 557.5,93.2 556.5,93.2 556.5,93.2 555.6,93.2 555.6,93.2 554.6,93.2 554.6,93.2 553.7,93.2 553.7,93.2 552.7,93.2 552.7,93.2 551.8,93.2 551.8,93.2 550.8,93.2 550.8,93.2 549.9,93.2 549.9,93.2 548.9,93.2 548.9,93.2 548.0,93.2 548.0,93.2 547.0,93.2 547.0,93.2 546.1,93.2 546.1,93.2 545.1,93.2 545.1,93.2 544.2,93.2 544.2,93.2 543.2,93.2 543.2,93.2 542.3,93.2 542.3,93.2 541.3,93.2 541.3,93.2 540.4,93.2 540.4,93.2 539.4,93.2 539.4,93.2 538.5,93.2 538.5,93.2 537.5,93.2 537.5,93.2 536.6,93.2 536.6,93.2 535.6,93.2 535.6,93.2 534.7,93.2 534.7,93.2 533.7,93.2 533.7,93.2 532.8,93.2 532.8,93.2 531.8,93.2 531.8,93.2 530.9,93.2 530.9,93.2 529.9,93.2 529.9,93.2 529.0,93.2 529.0,93.2 528.0,93.2 528.0,93.2 527.1,93.2 527.1,93.2 526.1,93.2 526.1,93.2 525.2,93.2 525.2,93.2 524.2,93.2 524.2,93.2 523.3,93.2 523.3,93.2 522.3,93.2 522.3,93.2 521.4,93.2 521.4,93.2 520.4,93.2 520.4,93.2 519.5,93.2 519.5,93.2 518.5,93.2 518.5,93.2 517.6,93.2 517.6,93.2 516.6,93.2 516.6,93.2 515.7,93.2 515.7,93.2 514.7,93.2 514.7,93.2 513.8,93.2 513.8,93.2 512.8,93.2 512.8,93.2 511.9,93.2 511.9,93.2 510.9,93.2 511.0,93.2 510.0,93.2 510.0,93.2 509.1,93.2 509.1,93.2 508.1,93.2 508.1,93.2 507.2,93.2 507.2,93.2 506.2,93.2 506.2,93.2 505.3,93.2 505.3,93.2 504.3,93.2 504.3,93.2 503.4,93.2 503.4,93.2 502.4,93.2 502.4,93.2 501.5,93.2 501.5,93.2 500.5,93.2 500.5,93.2 499.6,93.2 499.6,93.2 498.6,93.2 498.6,93.2 497.7,93.2 497.7,93.2 496.7,93.2 496.7,93.2 495.8,93.2 495.8,93.2 494.8,93.2 494.8,93.2 493.9,93.2 493.9,93.2 492.9,93.2 492.9,93.2 492.0,93.2 492.0,93.2 491.0,93.2 491.0,93.2 490.1,93.2 490.1,93.2 489.1,93.2 489.1,93.2 488.2,93.2 488.2,93.2 487.2,93.2 487.2,93.2 486.3,93.2 486.3,93.2 485.3,93.2 485.3,93.2 484.4,93.2 484.4,93.2 483.4,93.2 483.4,93.2 482.5,93.2 482.5,93.2 481.5,93.2 481.5,93.2 480.6,93.2 480.6,93.2 479.6,93.2 479.6,93.2 478.7,93.2 478.7,93.2 477.7,93.2 477.7,93.2 476.8,93.2 476.8,93.2 475.8,93.2 475.8,93.2 474.9,93.2 474.9,93.2 473.9,93.2 473.9,93.2 473.0,93.2 473.0,93.2 472.0,93.2 472.0,93.2 471.1,93.2 471.1,93.2 470.1,93.2 470.1,93.2 469.2,93.2 469.2,93.2 468.2,93.2 468.2,93.2 467.3,93.2 467.3,93.2 466.3,93.2 466.3,93.2 465.4,93.2 465.4,93.2 464.4,93.2 464.4,93.2 463.5,93.2 463.5,93.2 462.5,93.2 462.5,93.2 461.6,93.2 461.6,93.2 460.6,93.2 460.6,93.2 459.7,93.2 459.7,93.2 458.7,93.2 458.7,93.2 457.8,93.2 457.8,93.2 456.8,93.2 456.8,93.2 455.9,93.2 455.9,93.2 454.9,93.2 454.9,93.2 454.0,93.2 454.0,93.2 453.0,93.2 453.0,93.2 452.1,93.2 452.1,93.2 451.1,93.2 451.1,93.2 450.2,93.2 450.2,93.2 449.2,93.2 449.2,93.2 448.3,93.2 448.3,93.2 447.3,93.2 447.3,93.2 446.4,93.2 446.4,93.2 445.4,93.2 445.4,93.2 444.5,93.2 444.5,93.2 443.5,93.2 443.5,93.2 442.6,93.2 442.6,93.2 441.7,93.2 441.7,93.2 440.7,93.2 440.7,93.2 439.8,93.2 439.8,93.2 438.8,93.2 438.8,93.2 437.9,93.2 437.9,93.2 436.9,93.2 436.9,93.2 436.0,93.2 436.0,93.2 435.0,93.2 435.0,93.2 434.1,93.2 434.1,93.2 433.1,93.2 433.1,93.2 432.2,93.2 432.2,93.2 431.2,93.2 431.2,93.2 430.3,93.2 430.3,93.2 429.3,93.2 429.3,93.2 428.4,93.2 428.4,93.2 427.4,93.2 427.4,93.2 426.5,93.2 426.5,93.2 425.5,93.2 425.5,93.2 424.6,93.2 424.6,93.2 423.6,93.2 423.6,93.2 422.7,93.2 422.7,93.2 421.7,93.2 421.7,93.2 420.8,93.2 420.8,93.2 419.8,93.2 419.8,93.2 418.9,93.2 418.9,93.2 417.9,93.2 417.9,93.2 417.0,93.2 417.0,93.2 416.0,93.2 416.0,93.2 415.1,93.2 415.1,93.2 414.1,93.2 414.1,93.2 413.2,93.2 413.2,93.2 412.2,93.2 412.2,93.2 411.3,93.2 411.3,93.2 410.3,93.2 410.3,93.2 409.4,93.2 409.4,93.2 408.4,93.2" fill="#3d8387" style="fill:url(#hatchA)"/>
<line x1="408.3" y1="93.2" x2="645.6" y2="93.2" stroke="#2a4c50" stroke-width="0.8"/>
<path d="M408.60,92.80 C409.12,92.92 410.47,93.08 411.70,93.50 C412.93,93.92 414.87,95.42 416.00,95.30 C417.13,95.18 417.50,93.57 418.50,92.80 C419.50,92.03 420.77,90.70 422.00,90.70 C423.23,90.70 424.42,92.80 425.90,92.80 C427.38,92.80 429.67,90.80 430.90,90.70 C432.13,90.60 432.48,91.43 433.30,92.20 C434.12,92.97 434.77,95.20 435.80,95.30 C436.83,95.40 438.07,93.77 439.50,92.80 C440.93,91.83 443.17,89.77 444.40,89.50 C445.63,89.23 446.07,90.43 446.90,91.20 C447.73,91.97 448.37,93.83 449.40,94.10 C450.43,94.37 451.67,93.12 453.10,92.80 C454.53,92.48 456.30,92.57 458.00,92.20 C459.70,91.83 461.80,90.68 463.30,90.60 C464.80,90.52 465.77,91.22 467.00,91.70 C468.23,92.18 469.62,93.67 470.70,93.50 C471.78,93.33 472.42,91.70 473.50,90.70 C474.58,89.70 476.12,87.57 477.20,87.50 C478.28,87.43 479.15,89.53 480.00,90.30 C480.85,91.07 481.33,92.42 482.30,92.10 C483.27,91.78 484.75,88.90 485.80,88.40 C486.85,87.90 487.57,90.03 488.60,89.10 C489.63,88.17 490.85,84.35 492.00,82.80 C493.15,81.25 494.57,79.80 495.50,79.80 C496.43,79.80 496.90,81.13 497.60,82.80 C498.30,84.47 498.90,88.05 499.70,89.80 C500.50,91.55 501.48,92.07 502.40,93.30 C503.32,94.53 504.27,97.32 505.20,97.20 C506.13,97.08 507.07,94.77 508.00,92.60 C508.93,90.43 509.97,86.40 510.80,84.20 C511.63,82.00 512.23,80.88 513.00,79.40 C513.77,77.92 514.48,76.07 515.40,75.30 C516.32,74.53 517.47,74.45 518.50,74.80 C519.53,75.15 520.45,76.20 521.60,77.40 C522.75,78.60 523.98,80.20 525.40,82.00 C526.82,83.80 528.75,86.78 530.10,88.20 C531.45,89.62 532.43,90.78 533.50,90.50 C534.57,90.22 535.42,88.33 536.50,86.50 C537.58,84.67 539.00,81.67 540.00,79.50 C541.00,77.33 541.67,74.87 542.50,73.50 C543.33,72.13 544.08,70.87 545.00,71.30 C545.92,71.73 547.00,73.97 548.00,76.10 C549.00,78.23 550.03,82.42 551.00,84.10 C551.97,85.78 552.63,86.37 553.80,86.20 C554.97,86.03 556.28,84.08 558.00,83.10 C559.72,82.12 562.42,80.80 564.10,80.30 C565.78,79.80 566.78,79.90 568.10,80.10 C569.42,80.30 570.35,81.10 572.00,81.50 C573.65,81.90 575.00,81.87 578.00,82.50 C581.00,83.13 584.67,84.47 590.00,85.30 C595.33,86.13 603.33,86.95 610.00,87.50 C616.67,88.05 624.17,88.28 630.00,88.60 C635.83,88.92 642.50,89.27 645.00,89.40" fill="none" stroke="#dcc4f6" stroke-width="2.9" stroke-linejoin="round"/>
<path d="M408.60,92.80 C409.12,92.92 410.47,93.08 411.70,93.50 C412.93,93.92 414.87,95.42 416.00,95.30 C417.13,95.18 417.50,93.57 418.50,92.80 C419.50,92.03 420.77,90.70 422.00,90.70 C423.23,90.70 424.42,92.80 425.90,92.80 C427.38,92.80 429.67,90.80 430.90,90.70 C432.13,90.60 432.48,91.43 433.30,92.20 C434.12,92.97 434.77,95.20 435.80,95.30 C436.83,95.40 438.07,93.77 439.50,92.80 C440.93,91.83 443.17,89.77 444.40,89.50 C445.63,89.23 446.07,90.43 446.90,91.20 C447.73,91.97 448.37,93.83 449.40,94.10 C450.43,94.37 451.67,93.12 453.10,92.80 C454.53,92.48 456.30,92.57 458.00,92.20 C459.70,91.83 461.80,90.68 463.30,90.60 C464.80,90.52 465.77,91.22 467.00,91.70 C468.23,92.18 469.62,93.67 470.70,93.50 C471.78,93.33 472.42,91.70 473.50,90.70 C474.58,89.70 476.12,87.57 477.20,87.50 C478.28,87.43 479.15,89.53 480.00,90.30 C480.85,91.07 481.33,92.42 482.30,92.10 C483.27,91.78 484.75,88.90 485.80,88.40 C486.85,87.90 487.57,90.03 488.60,89.10 C489.63,88.17 490.85,84.35 492.00,82.80 C493.15,81.25 494.57,79.80 495.50,79.80 C496.43,79.80 496.90,81.13 497.60,82.80 C498.30,84.47 498.90,88.05 499.70,89.80 C500.50,91.55 501.48,92.07 502.40,93.30 C503.32,94.53 504.27,97.32 505.20,97.20 C506.13,97.08 507.07,94.77 508.00,92.60 C508.93,90.43 509.97,86.40 510.80,84.20 C511.63,82.00 512.23,80.88 513.00,79.40 C513.77,77.92 514.48,76.07 515.40,75.30 C516.32,74.53 517.47,74.45 518.50,74.80 C519.53,75.15 520.45,76.20 521.60,77.40 C522.75,78.60 523.98,80.20 525.40,82.00 C526.82,83.80 528.75,86.78 530.10,88.20 C531.45,89.62 532.43,90.78 533.50,90.50 C534.57,90.22 535.42,88.33 536.50,86.50 C537.58,84.67 539.00,81.67 540.00,79.50 C541.00,77.33 541.67,74.87 542.50,73.50 C543.33,72.13 544.08,70.87 545.00,71.30 C545.92,71.73 547.00,73.97 548.00,76.10 C549.00,78.23 550.03,82.42 551.00,84.10 C551.97,85.78 552.63,86.37 553.80,86.20 C554.97,86.03 556.28,84.08 558.00,83.10 C559.72,82.12 562.42,80.80 564.10,80.30 C565.78,79.80 566.78,79.90 568.10,80.10 C569.42,80.30 570.35,81.10 572.00,81.50 C573.65,81.90 575.00,81.87 578.00,82.50 C581.00,83.13 584.67,84.47 590.00,85.30 C595.33,86.13 603.33,86.95 610.00,87.50 C616.67,88.05 624.17,88.28 630.00,88.60 C635.83,88.92 642.50,89.27 645.00,89.40" fill="none" stroke="#9b3fe0" stroke-width="1.45" stroke-linejoin="round"/>
<line x1="404.6" y1="11.4" x2="645.8" y2="11.4" stroke="#8a8a8a" stroke-width="1"/>
<line x1="408.3" y1="11.4" x2="408.3" y2="207.2" stroke="#969696" stroke-width="1.2"/>
<line x1="408.3" y1="207.2" x2="645.8" y2="207.2" stroke="#bfbfbf" stroke-width="1.5"/>
<line x1="645.8" y1="11.4" x2="645.8" y2="207.2" stroke="#c9a6ee" stroke-width="1"/>
<line x1="404.6" y1="11.4" x2="408.3" y2="11.4" stroke="#8a8a8a" stroke-width="0.9"/>
<text x="402.9" y="15.0" font-size="9.48" text-anchor="end" textLength="14.6" lengthAdjust="spacingAndGlyphs" fill="#262626" stroke="#262626" stroke-width="0.1" >0.2</text>
<line x1="645.8" y1="11.4" x2="649.2" y2="11.4" stroke="#a463e3" stroke-width="0.9"/>
<text x="650.5" y="15.0" font-size="9.48" textLength="14.6" lengthAdjust="spacingAndGlyphs" fill="#9150d2" stroke="#9150d2" stroke-width="0.1" >0.2</text>
<line x1="404.6" y1="52.5" x2="408.3" y2="52.5" stroke="#8a8a8a" stroke-width="0.9"/>
<text x="402.9" y="56.1" font-size="9.48" text-anchor="end" textLength="14.6" lengthAdjust="spacingAndGlyphs" fill="#262626" stroke="#262626" stroke-width="0.1" >0.1</text>
<line x1="645.8" y1="52.5" x2="649.2" y2="52.5" stroke="#a463e3" stroke-width="0.9"/>
<text x="650.5" y="56.1" font-size="9.48" textLength="14.6" lengthAdjust="spacingAndGlyphs" fill="#9150d2" stroke="#9150d2" stroke-width="0.1" >0.1</text>
<line x1="404.6" y1="93.1" x2="408.3" y2="93.1" stroke="#8a8a8a" stroke-width="0.9"/>
<text x="402.9" y="96.7" font-size="9.48" text-anchor="end" textLength="14.6" lengthAdjust="spacingAndGlyphs" fill="#262626" stroke="#262626" stroke-width="0.1" >0.0</text>
<line x1="645.8" y1="93.1" x2="649.2" y2="93.1" stroke="#a463e3" stroke-width="0.9"/>
<text x="650.5" y="96.7" font-size="9.48" textLength="14.6" lengthAdjust="spacingAndGlyphs" fill="#9150d2" stroke="#9150d2" stroke-width="0.1" >0.0</text>
<line x1="404.6" y1="133.6" x2="408.3" y2="133.6" stroke="#8a8a8a" stroke-width="0.9"/>
<text x="402.9" y="137.2" font-size="9.48" text-anchor="end" textLength="22.3" lengthAdjust="spacingAndGlyphs" fill="#262626" stroke="#262626" stroke-width="0.1" >−0.1</text>
<line x1="645.8" y1="133.6" x2="649.2" y2="133.6" stroke="#a463e3" stroke-width="0.9"/>
<text x="650.5" y="137.2" font-size="9.48" textLength="22.3" lengthAdjust="spacingAndGlyphs" fill="#9150d2" stroke="#9150d2" stroke-width="0.1" >−0.1</text>
<line x1="404.6" y1="174.7" x2="408.3" y2="174.7" stroke="#8a8a8a" stroke-width="0.9"/>
<text x="402.9" y="178.3" font-size="9.48" text-anchor="end" textLength="22.3" lengthAdjust="spacingAndGlyphs" fill="#262626" stroke="#262626" stroke-width="0.1" >−0.2</text>
<line x1="645.8" y1="174.7" x2="649.2" y2="174.7" stroke="#a463e3" stroke-width="0.9"/>
<text x="650.5" y="178.3" font-size="9.48" textLength="22.3" lengthAdjust="spacingAndGlyphs" fill="#9150d2" stroke="#9150d2" stroke-width="0.1" >−0.2</text>
<line x1="408.9" y1="207.2" x2="408.9" y2="210.8" stroke="#8a8a8a" stroke-width="0.9"/>
<text x="408.9" y="227.4" font-size="9.68" text-anchor="middle" textLength="23.9" lengthAdjust="spacingAndGlyphs" transform="rotate(-45 408.9 224.0)" fill="#262626" stroke="#262626" stroke-width="0.1" >1850</text>
<line x1="432.6" y1="207.2" x2="432.6" y2="210.8" stroke="#8a8a8a" stroke-width="0.9"/>
<text x="432.6" y="227.4" font-size="9.68" text-anchor="middle" textLength="23.9" lengthAdjust="spacingAndGlyphs" transform="rotate(-45 432.6 224.0)" fill="#262626" stroke="#262626" stroke-width="0.1" >1875</text>
<line x1="456.4" y1="207.2" x2="456.4" y2="210.8" stroke="#8a8a8a" stroke-width="0.9"/>
<text x="456.4" y="227.4" font-size="9.68" text-anchor="middle" textLength="23.9" lengthAdjust="spacingAndGlyphs" transform="rotate(-45 456.4 224.0)" fill="#262626" stroke="#262626" stroke-width="0.1" >1900</text>
<line x1="480.1" y1="207.2" x2="480.1" y2="210.8" stroke="#8a8a8a" stroke-width="0.9"/>
<text x="480.1" y="227.4" font-size="9.68" text-anchor="middle" textLength="23.9" lengthAdjust="spacingAndGlyphs" transform="rotate(-45 480.1 224.0)" fill="#262626" stroke="#262626" stroke-width="0.1" >1925</text>
<line x1="503.8" y1="207.2" x2="503.8" y2="210.8" stroke="#8a8a8a" stroke-width="0.9"/>
<text x="503.8" y="227.4" font-size="9.68" text-anchor="middle" textLength="23.9" lengthAdjust="spacingAndGlyphs" transform="rotate(-45 503.8 224.0)" fill="#262626" stroke="#262626" stroke-width="0.1" >1950</text>
<line x1="527.5" y1="207.2" x2="527.5" y2="210.8" stroke="#8a8a8a" stroke-width="0.9"/>
<text x="527.5" y="227.4" font-size="9.68" text-anchor="middle" textLength="23.9" lengthAdjust="spacingAndGlyphs" transform="rotate(-45 527.5 224.0)" fill="#262626" stroke="#262626" stroke-width="0.1" >1975</text>
<line x1="551.3" y1="207.2" x2="551.3" y2="210.8" stroke="#8a8a8a" stroke-width="0.9"/>
<text x="551.3" y="227.4" font-size="9.68" text-anchor="middle" textLength="23.9" lengthAdjust="spacingAndGlyphs" transform="rotate(-45 551.3 224.0)" fill="#262626" stroke="#262626" stroke-width="0.1" >2000</text>
<line x1="575.0" y1="207.2" x2="575.0" y2="210.8" stroke="#8a8a8a" stroke-width="0.9"/>
<text x="575.0" y="227.4" font-size="9.68" text-anchor="middle" textLength="23.9" lengthAdjust="spacingAndGlyphs" transform="rotate(-45 575.0 224.0)" fill="#262626" stroke="#262626" stroke-width="0.1" >2025</text>
<line x1="598.7" y1="207.2" x2="598.7" y2="210.8" stroke="#8a8a8a" stroke-width="0.9"/>
<text x="598.7" y="227.4" font-size="9.68" text-anchor="middle" textLength="23.9" lengthAdjust="spacingAndGlyphs" transform="rotate(-45 598.7 224.0)" fill="#262626" stroke="#262626" stroke-width="0.1" >2050</text>
<line x1="622.5" y1="207.2" x2="622.5" y2="210.8" stroke="#8a8a8a" stroke-width="0.9"/>
<text x="622.5" y="227.4" font-size="9.68" text-anchor="middle" textLength="23.9" lengthAdjust="spacingAndGlyphs" transform="rotate(-45 622.5 224.0)" fill="#262626" stroke="#262626" stroke-width="0.1" >2075</text>
<text x="640.0" y="227.4" font-size="9.68" text-anchor="middle" textLength="23.9" lengthAdjust="spacingAndGlyphs" transform="rotate(-45 640.0 224.0)" fill="#262626" stroke="#262626" stroke-width="0.1" >2100</text>
<text x="411.1" y="8.9" font-size="8.96" textLength="12.3" lengthAdjust="spacingAndGlyphs" fill="#262626" stroke="#262626" stroke-width="0.1" >(b)</text>
<text x="526.9" y="244.1" font-size="9.58" text-anchor="middle" textLength="53.7" lengthAdjust="spacingAndGlyphs" fill="#262626" stroke="#262626" stroke-width="0.1" >Time (year)</text>
<text x="377.2" y="204.3" font-size="9.75" textLength="189.8" lengthAdjust="spacingAndGlyphs" transform="rotate(-90 377.2 204.3)" fill="#262626" stroke="#262626" stroke-width="0.1" >Δ atmospheric radiative burden (W m<tspan font-size="6.8" dy="-3.6">−2</tspan><tspan dy="3.6">)</tspan></text>
<text x="677.2" y="64.0" font-size="9.94" textLength="93.0" lengthAdjust="spacingAndGlyphs" transform="rotate(90 677.2 64.0)" fill="#9150d2" stroke="#9150d2" stroke-width="0.1" >Δ Temperature (°C)</text>
<rect x="442.20000000000005" y="131.4" width="61.10000000000001" height="49.69999999999999" fill="#fff" stroke="#4a4a4a" stroke-width="0.8"/>
<line x1="460.5" y1="131.4" x2="460.5" y2="181.1" stroke="#ececec" stroke-width="0.6"/>
<line x1="478.40000000000003" y1="131.4" x2="478.40000000000003" y2="181.1" stroke="#ececec" stroke-width="0.6"/>
<line x1="496.30000000000007" y1="131.4" x2="496.30000000000007" y2="181.1" stroke="#ececec" stroke-width="0.6"/>
<line x1="442.20000000000005" y1="133.3" x2="503.30000000000007" y2="133.3" stroke="#ececec" stroke-width="0.6"/>
<line x1="439.8" y1="133.3" x2="442.20000000000005" y2="133.3" stroke="#555" stroke-width="0.7"/>
<line x1="442.20000000000005" y1="154.3" x2="503.30000000000007" y2="154.3" stroke="#ececec" stroke-width="0.6"/>
<line x1="439.8" y1="154.3" x2="442.20000000000005" y2="154.3" stroke="#555" stroke-width="0.7"/>
<line x1="442.20000000000005" y1="175.2" x2="503.30000000000007" y2="175.2" stroke="#ececec" stroke-width="0.6"/>
<line x1="439.8" y1="175.2" x2="442.20000000000005" y2="175.2" stroke="#555" stroke-width="0.7"/>
<line x1="443.1" y1="181.1" x2="443.1" y2="183.5" stroke="#555" stroke-width="0.7"/>
<line x1="460.5" y1="181.1" x2="460.5" y2="183.5" stroke="#555" stroke-width="0.7"/>
<line x1="478.40000000000003" y1="181.1" x2="478.40000000000003" y2="183.5" stroke="#555" stroke-width="0.7"/>
<line x1="496.20000000000005" y1="181.1" x2="496.20000000000005" y2="183.5" stroke="#555" stroke-width="0.7"/>
<path d="M445.10,133.30 C445.73,133.58 447.43,134.13 448.90,135.00 C450.37,135.87 452.48,137.42 453.90,138.50 C455.32,139.58 456.47,140.88 457.40,141.50 C458.33,142.12 458.73,141.98 459.50,142.20 C460.27,142.42 461.10,142.25 462.00,142.80 C462.90,143.35 463.98,144.47 464.90,145.50 C465.82,146.53 466.75,146.67 467.50,149.00 C468.25,151.33 468.82,156.35 469.40,159.50 C469.98,162.65 470.42,165.42 471.00,167.90 C471.58,170.38 472.30,172.82 472.90,174.40 C473.50,175.98 474.02,176.95 474.60,177.40 C475.18,177.85 475.77,177.72 476.40,177.10 C477.03,176.48 477.75,173.83 478.40,173.70 C479.05,173.57 479.60,175.35 480.30,176.30 C481.00,177.25 481.83,180.45 482.60,179.40 C483.37,178.35 484.00,172.97 484.90,170.00 C485.80,167.03 487.10,163.65 488.00,161.60 C488.90,159.55 489.15,158.87 490.30,157.70 C491.45,156.53 493.23,155.63 494.90,154.60 C496.57,153.57 499.40,152.02 500.30,151.50" fill="none" stroke="#d07844" stroke-width="1.0"/>
<path d="M445.10,133.30 C445.73,133.58 447.43,134.13 448.90,135.00 C450.37,135.87 452.48,137.42 453.90,138.50 C455.32,139.58 456.47,140.88 457.40,141.50 C458.33,142.12 458.73,141.98 459.50,142.20 C460.27,142.42 461.10,142.25 462.00,142.80 C462.90,143.35 463.98,144.47 464.90,145.50 C465.82,146.53 466.75,146.67 467.50,149.00 C468.25,151.33 468.82,156.50 469.40,159.50 C469.98,162.50 470.42,164.67 471.00,167.00 C471.58,169.33 472.30,171.92 472.90,173.50 C473.50,175.08 474.02,176.05 474.60,176.50 C475.18,176.95 475.77,176.82 476.40,176.20 C477.03,175.58 477.75,172.93 478.40,172.80 C479.05,172.67 479.60,174.45 480.30,175.40 C481.00,176.35 481.83,179.40 482.60,178.50 C483.37,177.60 484.00,172.82 484.90,170.00 C485.80,167.18 487.10,163.65 488.00,161.60 C488.90,159.55 489.15,158.87 490.30,157.70 C491.45,156.53 493.23,155.63 494.90,154.60 C496.57,153.57 499.40,152.02 500.30,151.50" fill="none" stroke="#3b3bc4" stroke-width="0.9" stroke-dasharray="2.6,1.0"/>
<text x="442.5" y="129.3" font-size="7.34" textLength="60.3" lengthAdjust="spacingAndGlyphs" fill="#262626" stroke="#262626" stroke-width="0.1" >Radiative forcing</text>
<text x="437.5" y="135.6" font-size="7.21" text-anchor="end" textLength="11.1" lengthAdjust="spacingAndGlyphs" transform="rotate(-45 437.5 135.6)" fill="#262626" stroke="#262626" stroke-width="0.1" >0.0</text>
<text x="437.5" y="156.6" font-size="7.21" text-anchor="end" textLength="17.0" lengthAdjust="spacingAndGlyphs" transform="rotate(-45 437.5 156.6)" fill="#262626" stroke="#262626" stroke-width="0.1" >−0.5</text>
<text x="437.5" y="177.5" font-size="7.21" text-anchor="end" textLength="17.0" lengthAdjust="spacingAndGlyphs" transform="rotate(-45 437.5 177.5)" fill="#262626" stroke="#262626" stroke-width="0.1" >−1.0</text>
<text x="417.1" y="167.9" font-size="7.1" textLength="23.6" lengthAdjust="spacingAndGlyphs" transform="rotate(-90 417.1 167.9)" fill="#262626" stroke="#262626" stroke-width="0.1" >W m<tspan font-size="4.8" dy="-2.6">−2</tspan></text>
<text x="442.6" y="198.2" font-size="7.31" text-anchor="middle" textLength="18.1" lengthAdjust="spacingAndGlyphs" transform="rotate(-45 442.6 195.6)" fill="#262626" stroke="#262626" stroke-width="0.1" >1840</text>
<text x="460.0" y="198.2" font-size="7.31" text-anchor="middle" textLength="18.1" lengthAdjust="spacingAndGlyphs" transform="rotate(-45 460.0 195.6)" fill="#262626" stroke="#262626" stroke-width="0.1" >1920</text>
<text x="477.9" y="198.2" font-size="7.31" text-anchor="middle" textLength="18.1" lengthAdjust="spacingAndGlyphs" transform="rotate(-45 477.9 195.6)" fill="#262626" stroke="#262626" stroke-width="0.1" >2000</text>
<text x="495.7" y="198.2" font-size="7.31" text-anchor="middle" textLength="18.1" lengthAdjust="spacingAndGlyphs" transform="rotate(-45 495.7 195.6)" fill="#262626" stroke="#262626" stroke-width="0.1" >2080</text>
<text x="527.0" y="8.8" font-size="10.36" text-anchor="middle" textLength="177.9" lengthAdjust="spacingAndGlyphs" fill="#262626" stroke="#262626" stroke-width="0.1" >no plumes only ocean − no plumes</text>
<rect x="49.1" y="256.4" width="16.9" height="6.1" fill="#97efe3"/>
<text x="73.4" y="256.8" font-size="8.91" textLength="39.2" lengthAdjust="spacingAndGlyphs" fill="#262626" stroke="#262626" stroke-width="0.1" >Land use</text>
<text x="76.1" y="266.1" font-size="8.91" textLength="75.4" lengthAdjust="spacingAndGlyphs" fill="#262626" stroke="#262626" stroke-width="0.1" >emissions forcing</text>
<rect x="49.1" y="284.1" width="16.9" height="6.1" fill="#4a8fd4"/>
<text x="73.4" y="284.4" font-size="8.91" textLength="42.8" lengthAdjust="spacingAndGlyphs" fill="#262626" stroke="#262626" stroke-width="0.1" >Fossil fuel</text>
<text x="76.1" y="293.7" font-size="8.91" textLength="75.4" lengthAdjust="spacingAndGlyphs" fill="#262626" stroke="#262626" stroke-width="0.1" >emissions forcing</text>
<rect x="49.1" y="311.1" width="16.9" height="6.1" fill="#3f5a80"/>
<text x="73.4" y="312.0" font-size="8.91" textLength="60.3" lengthAdjust="spacingAndGlyphs" fill="#262626" stroke="#262626" stroke-width="0.1" >Ocean carbon</text>
<text x="76.1" y="321.3" font-size="8.91" textLength="62.3" lengthAdjust="spacingAndGlyphs" fill="#262626" stroke="#262626" stroke-width="0.1" >uptake forcing</text>
<rect x="169.1" y="256.5" width="16.9" height="6.1" fill="#58cfe0"/>
<text x="193.4" y="256.8" font-size="8.91" textLength="53.7" lengthAdjust="spacingAndGlyphs" fill="#262626" stroke="#262626" stroke-width="0.1" >Land carbon</text>
<text x="196.1" y="266.1" font-size="8.91" textLength="62.3" lengthAdjust="spacingAndGlyphs" fill="#262626" stroke="#262626" stroke-width="0.1" >uptake forcing</text>
<rect x="169.1" y="284.1" width="16.9" height="6.1" fill="#c0f2f6"/>
<text x="193.4" y="284.4" font-size="8.91" textLength="47.0" lengthAdjust="spacingAndGlyphs" fill="#262626" stroke="#262626" stroke-width="0.1" >Permafrost</text>
<text x="193.4" y="293.7" font-size="8.91" textLength="62.3" lengthAdjust="spacingAndGlyphs" fill="#262626" stroke="#262626" stroke-width="0.1" >uptake forcing</text>
<rect x="275.8" y="256.5" width="16.9" height="6.1" fill="#f08a4e"/>
<text x="300.0" y="262.8" font-size="8.91" textLength="77.1" lengthAdjust="spacingAndGlyphs" fill="#262626" stroke="#262626" stroke-width="0.1" >Sulphate aerosols</text>
<rect x="275.8" y="280.1" width="16.9" height="6.1" fill="#98f7a0"/>
<text x="300.0" y="280.9" font-size="8.91" textLength="49.9" lengthAdjust="spacingAndGlyphs" fill="#262626" stroke="#262626" stroke-width="0.1" >Ocean heat</text>
<text x="302.7" y="290.2" font-size="8.91" textLength="29.7" lengthAdjust="spacingAndGlyphs" fill="#262626" stroke="#262626" stroke-width="0.1" >uptake</text>
<rect x="394.4" y="256.5" width="17.6" height="6.1" fill="#fff" stroke="#555" stroke-width="0.7"/>
<path d="M397,262.5 L403,256.5 M405,262.5 L411,256.5" stroke="#555" stroke-width="0.6"/>
<text x="419.0" y="262.7" font-size="8.91" textLength="17.9" lengthAdjust="spacingAndGlyphs" fill="#262626" stroke="#262626" stroke-width="0.1" >ARB</text>
<line x1="394.2" y1="277.3" x2="412.6" y2="277.3" stroke="#8a3ee0" stroke-width="1.3"/>
<text x="419.4" y="280.3" font-size="8.91" textLength="54.8" lengthAdjust="spacingAndGlyphs" fill="#262626" stroke="#262626" stroke-width="0.1" >Temperature</text>
<line x1="490.5" y1="259.3" x2="509" y2="259.3" stroke="#b8602e" stroke-width="1.2"/>
<text x="515.3" y="262.3" font-size="8.91" textLength="45.2" lengthAdjust="spacingAndGlyphs" fill="#262626" stroke="#262626" stroke-width="0.1" >no plumes</text>
<line x1="490.8" y1="277" x2="509" y2="277" stroke="#1c1c98" stroke-width="1.3" stroke-dasharray="4.1,2.6"/>
<text x="515.3" y="279.8" font-size="8.91" textLength="75.4" lengthAdjust="spacingAndGlyphs" fill="#262626" stroke="#262626" stroke-width="0.1" >only land (ocean)</text>
</svg></body></html>
